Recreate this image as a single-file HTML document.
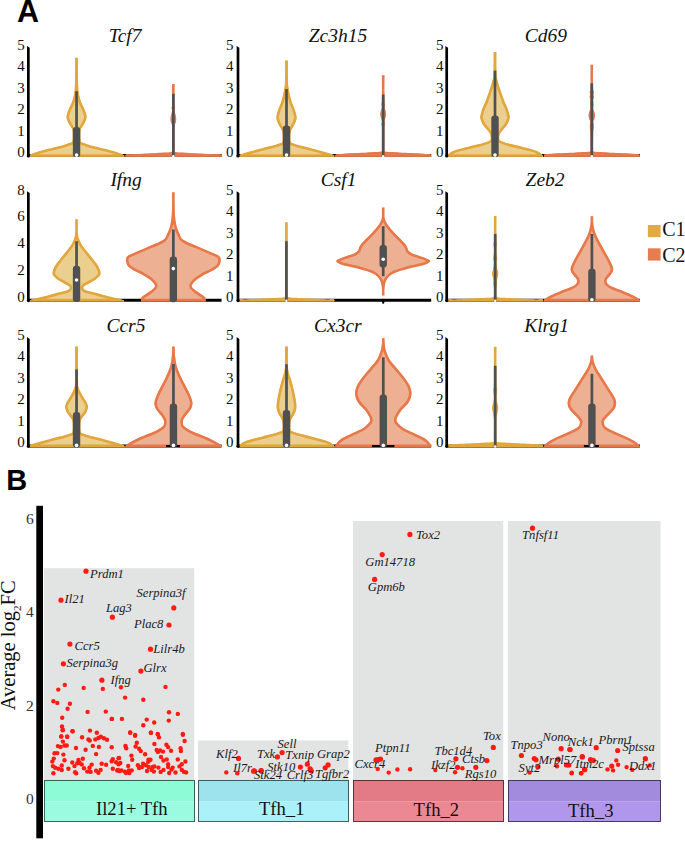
<!DOCTYPE html><html><head><meta charset="utf-8"><style>html,body{margin:0;padding:0;background:#fff;}svg{display:block;}</style></head><body>
<svg width="685" height="841" viewBox="0 0 685 841">
<rect width="685" height="841" fill="#fff"/>
<text x="16.9" y="22.3" font-family='"Liberation Sans", sans-serif' font-weight="bold" font-size="30.5px" fill="#000">A</text>
<text x="24.80" y="157.30" font-family='"Liberation Serif", serif' font-size="15px" fill="#111" text-anchor="end">0</text>
<text x="24.80" y="135.83" font-family='"Liberation Serif", serif' font-size="15px" fill="#111" text-anchor="end">1</text>
<text x="24.80" y="114.36" font-family='"Liberation Serif", serif' font-size="15px" fill="#111" text-anchor="end">2</text>
<text x="24.80" y="92.89" font-family='"Liberation Serif", serif' font-size="15px" fill="#111" text-anchor="end">3</text>
<text x="24.80" y="71.42" font-family='"Liberation Serif", serif' font-size="15px" fill="#111" text-anchor="end">4</text>
<text x="24.80" y="49.95" font-family='"Liberation Serif", serif' font-size="15px" fill="#111" text-anchor="end">5</text>
<text x="125.10" y="41.50" font-family='"Liberation Serif", serif' font-style="italic" font-size="19.5px" fill="#111" text-anchor="middle">Tcf7</text>
<line x1="28.35" y1="155.60" x2="221.55" y2="155.60" stroke="#000" stroke-width="3"/>
<text x="233.60" y="157.30" font-family='"Liberation Serif", serif' font-size="15px" fill="#111" text-anchor="end">0</text>
<text x="233.60" y="135.83" font-family='"Liberation Serif", serif' font-size="15px" fill="#111" text-anchor="end">1</text>
<text x="233.60" y="114.36" font-family='"Liberation Serif", serif' font-size="15px" fill="#111" text-anchor="end">2</text>
<text x="233.60" y="92.89" font-family='"Liberation Serif", serif' font-size="15px" fill="#111" text-anchor="end">3</text>
<text x="233.60" y="71.42" font-family='"Liberation Serif", serif' font-size="15px" fill="#111" text-anchor="end">4</text>
<text x="233.60" y="49.95" font-family='"Liberation Serif", serif' font-size="15px" fill="#111" text-anchor="end">5</text>
<text x="337.95" y="41.50" font-family='"Liberation Serif", serif' font-style="italic" font-size="19.5px" fill="#111" text-anchor="middle">Zc3h15</text>
<line x1="238.00" y1="155.60" x2="431.20" y2="155.60" stroke="#000" stroke-width="3"/>
<text x="443.60" y="157.30" font-family='"Liberation Serif", serif' font-size="15px" fill="#111" text-anchor="end">0</text>
<text x="443.60" y="135.83" font-family='"Liberation Serif", serif' font-size="15px" fill="#111" text-anchor="end">1</text>
<text x="443.60" y="114.36" font-family='"Liberation Serif", serif' font-size="15px" fill="#111" text-anchor="end">2</text>
<text x="443.60" y="92.89" font-family='"Liberation Serif", serif' font-size="15px" fill="#111" text-anchor="end">3</text>
<text x="443.60" y="71.42" font-family='"Liberation Serif", serif' font-size="15px" fill="#111" text-anchor="end">4</text>
<text x="443.60" y="49.95" font-family='"Liberation Serif", serif' font-size="15px" fill="#111" text-anchor="end">5</text>
<text x="545.80" y="41.50" font-family='"Liberation Serif", serif' font-style="italic" font-size="19.5px" fill="#111" text-anchor="middle">Cd69</text>
<line x1="446.70" y1="155.60" x2="639.90" y2="155.60" stroke="#000" stroke-width="3"/>
<text x="24.80" y="302.10" font-family='"Liberation Serif", serif' font-size="15px" fill="#111" text-anchor="end">0</text>
<text x="24.80" y="275.20" font-family='"Liberation Serif", serif' font-size="15px" fill="#111" text-anchor="end">2</text>
<text x="24.80" y="248.30" font-family='"Liberation Serif", serif' font-size="15px" fill="#111" text-anchor="end">4</text>
<text x="24.80" y="221.40" font-family='"Liberation Serif", serif' font-size="15px" fill="#111" text-anchor="end">6</text>
<text x="24.80" y="194.50" font-family='"Liberation Serif", serif' font-size="15px" fill="#111" text-anchor="end">8</text>
<text x="126.10" y="185.60" font-family='"Liberation Serif", serif' font-style="italic" font-size="19.5px" fill="#111" text-anchor="middle">Ifng</text>
<line x1="28.35" y1="300.20" x2="221.55" y2="300.20" stroke="#000" stroke-width="3"/>
<text x="233.60" y="302.10" font-family='"Liberation Serif", serif' font-size="15px" fill="#111" text-anchor="end">0</text>
<text x="233.60" y="280.63" font-family='"Liberation Serif", serif' font-size="15px" fill="#111" text-anchor="end">1</text>
<text x="233.60" y="259.16" font-family='"Liberation Serif", serif' font-size="15px" fill="#111" text-anchor="end">2</text>
<text x="233.60" y="237.69" font-family='"Liberation Serif", serif' font-size="15px" fill="#111" text-anchor="end">3</text>
<text x="233.60" y="216.22" font-family='"Liberation Serif", serif' font-size="15px" fill="#111" text-anchor="end">4</text>
<text x="233.60" y="194.75" font-family='"Liberation Serif", serif' font-size="15px" fill="#111" text-anchor="end">5</text>
<text x="338.65" y="185.60" font-family='"Liberation Serif", serif' font-style="italic" font-size="19.5px" fill="#111" text-anchor="middle">Csf1</text>
<line x1="238.00" y1="300.20" x2="431.20" y2="300.20" stroke="#000" stroke-width="3"/>
<text x="443.60" y="302.10" font-family='"Liberation Serif", serif' font-size="15px" fill="#111" text-anchor="end">0</text>
<text x="443.60" y="280.63" font-family='"Liberation Serif", serif' font-size="15px" fill="#111" text-anchor="end">1</text>
<text x="443.60" y="259.16" font-family='"Liberation Serif", serif' font-size="15px" fill="#111" text-anchor="end">2</text>
<text x="443.60" y="237.69" font-family='"Liberation Serif", serif' font-size="15px" fill="#111" text-anchor="end">3</text>
<text x="443.60" y="216.22" font-family='"Liberation Serif", serif' font-size="15px" fill="#111" text-anchor="end">4</text>
<text x="443.60" y="194.75" font-family='"Liberation Serif", serif' font-size="15px" fill="#111" text-anchor="end">5</text>
<text x="545.05" y="185.60" font-family='"Liberation Serif", serif' font-style="italic" font-size="19.5px" fill="#111" text-anchor="middle">Zeb2</text>
<line x1="446.70" y1="300.20" x2="639.90" y2="300.20" stroke="#000" stroke-width="3"/>
<text x="24.80" y="447.30" font-family='"Liberation Serif", serif' font-size="15px" fill="#111" text-anchor="end">0</text>
<text x="24.80" y="425.83" font-family='"Liberation Serif", serif' font-size="15px" fill="#111" text-anchor="end">1</text>
<text x="24.80" y="404.36" font-family='"Liberation Serif", serif' font-size="15px" fill="#111" text-anchor="end">2</text>
<text x="24.80" y="382.89" font-family='"Liberation Serif", serif' font-size="15px" fill="#111" text-anchor="end">3</text>
<text x="24.80" y="361.42" font-family='"Liberation Serif", serif' font-size="15px" fill="#111" text-anchor="end">4</text>
<text x="24.80" y="339.95" font-family='"Liberation Serif", serif' font-size="15px" fill="#111" text-anchor="end">5</text>
<text x="125.95" y="331.50" font-family='"Liberation Serif", serif' font-style="italic" font-size="19.5px" fill="#111" text-anchor="middle">Ccr5</text>
<line x1="28.35" y1="445.90" x2="221.55" y2="445.90" stroke="#000" stroke-width="3"/>
<text x="233.60" y="447.30" font-family='"Liberation Serif", serif' font-size="15px" fill="#111" text-anchor="end">0</text>
<text x="233.60" y="425.83" font-family='"Liberation Serif", serif' font-size="15px" fill="#111" text-anchor="end">1</text>
<text x="233.60" y="404.36" font-family='"Liberation Serif", serif' font-size="15px" fill="#111" text-anchor="end">2</text>
<text x="233.60" y="382.89" font-family='"Liberation Serif", serif' font-size="15px" fill="#111" text-anchor="end">3</text>
<text x="233.60" y="361.42" font-family='"Liberation Serif", serif' font-size="15px" fill="#111" text-anchor="end">4</text>
<text x="233.60" y="339.95" font-family='"Liberation Serif", serif' font-size="15px" fill="#111" text-anchor="end">5</text>
<text x="337.85" y="331.50" font-family='"Liberation Serif", serif' font-style="italic" font-size="19.5px" fill="#111" text-anchor="middle">Cx3cr</text>
<line x1="238.00" y1="445.90" x2="431.20" y2="445.90" stroke="#000" stroke-width="3"/>
<text x="443.60" y="447.30" font-family='"Liberation Serif", serif' font-size="15px" fill="#111" text-anchor="end">0</text>
<text x="443.60" y="425.83" font-family='"Liberation Serif", serif' font-size="15px" fill="#111" text-anchor="end">1</text>
<text x="443.60" y="404.36" font-family='"Liberation Serif", serif' font-size="15px" fill="#111" text-anchor="end">2</text>
<text x="443.60" y="382.89" font-family='"Liberation Serif", serif' font-size="15px" fill="#111" text-anchor="end">3</text>
<text x="443.60" y="361.42" font-family='"Liberation Serif", serif' font-size="15px" fill="#111" text-anchor="end">4</text>
<text x="443.60" y="339.95" font-family='"Liberation Serif", serif' font-size="15px" fill="#111" text-anchor="end">5</text>
<text x="546.60" y="331.50" font-family='"Liberation Serif", serif' font-style="italic" font-size="19.5px" fill="#111" text-anchor="middle">Klrg1</text>
<line x1="446.70" y1="445.90" x2="639.90" y2="445.90" stroke="#000" stroke-width="3"/>
<clipPath id="vc1"><path d="M77.95,57.80 C77.97,61.50 77.97,74.77 78.05,80.00 C78.13,85.23 78.22,86.53 78.45,89.20 C78.68,91.87 78.98,93.82 79.45,96.00 C79.92,98.18 80.58,100.47 81.25,102.30 C81.92,104.13 82.77,105.47 83.45,107.00 C84.13,108.53 84.82,109.77 85.35,111.50 C85.88,113.23 86.78,115.45 86.65,117.40 C86.52,119.35 85.23,121.68 84.55,123.20 C83.87,124.72 83.18,125.40 82.55,126.50 C81.92,127.60 81.10,128.38 80.75,129.80 C80.40,131.22 80.43,133.03 80.45,135.00 C80.47,136.97 80.25,140.25 80.85,141.60 C81.45,142.95 82.63,142.55 84.05,143.10 C85.47,143.65 85.88,143.95 89.35,144.90 C92.82,145.85 99.98,147.50 104.85,148.80 C109.72,150.10 115.33,151.62 118.55,152.70 C121.77,153.78 123.15,154.62 124.15,155.30 C125.15,155.98 124.48,156.55 124.55,156.80 L28.55,156.80 C28.62,156.55 27.95,155.98 28.95,155.30 C29.95,154.62 31.33,153.78 34.55,152.70 C37.77,151.62 43.38,150.10 48.25,148.80 C53.12,147.50 60.28,145.85 63.75,144.90 C67.22,143.95 67.63,143.65 69.05,143.10 C70.47,142.55 71.65,142.95 72.25,141.60 C72.85,140.25 72.63,136.97 72.65,135.00 C72.67,133.03 72.70,131.22 72.35,129.80 C72.00,128.38 71.18,127.60 70.55,126.50 C69.92,125.40 69.23,124.72 68.55,123.20 C67.87,121.68 66.58,119.35 66.45,117.40 C66.32,115.45 67.22,113.23 67.75,111.50 C68.28,109.77 68.97,108.53 69.65,107.00 C70.33,105.47 71.18,104.13 71.85,102.30 C72.52,100.47 73.18,98.18 73.65,96.00 C74.12,93.82 74.42,91.87 74.65,89.20 C74.88,86.53 74.97,85.23 75.05,80.00 C75.13,74.77 75.13,61.50 75.15,57.80 Z"/></clipPath>
<path d="M77.95,57.80 C77.97,61.50 77.97,74.77 78.05,80.00 C78.13,85.23 78.22,86.53 78.45,89.20 C78.68,91.87 78.98,93.82 79.45,96.00 C79.92,98.18 80.58,100.47 81.25,102.30 C81.92,104.13 82.77,105.47 83.45,107.00 C84.13,108.53 84.82,109.77 85.35,111.50 C85.88,113.23 86.78,115.45 86.65,117.40 C86.52,119.35 85.23,121.68 84.55,123.20 C83.87,124.72 83.18,125.40 82.55,126.50 C81.92,127.60 81.10,128.38 80.75,129.80 C80.40,131.22 80.43,133.03 80.45,135.00 C80.47,136.97 80.25,140.25 80.85,141.60 C81.45,142.95 82.63,142.55 84.05,143.10 C85.47,143.65 85.88,143.95 89.35,144.90 C92.82,145.85 99.98,147.50 104.85,148.80 C109.72,150.10 115.33,151.62 118.55,152.70 C121.77,153.78 123.15,154.62 124.15,155.30 C125.15,155.98 124.48,156.55 124.55,156.80 L28.55,156.80 C28.62,156.55 27.95,155.98 28.95,155.30 C29.95,154.62 31.33,153.78 34.55,152.70 C37.77,151.62 43.38,150.10 48.25,148.80 C53.12,147.50 60.28,145.85 63.75,144.90 C67.22,143.95 67.63,143.65 69.05,143.10 C70.47,142.55 71.65,142.95 72.25,141.60 C72.85,140.25 72.63,136.97 72.65,135.00 C72.67,133.03 72.70,131.22 72.35,129.80 C72.00,128.38 71.18,127.60 70.55,126.50 C69.92,125.40 69.23,124.72 68.55,123.20 C67.87,121.68 66.58,119.35 66.45,117.40 C66.32,115.45 67.22,113.23 67.75,111.50 C68.28,109.77 68.97,108.53 69.65,107.00 C70.33,105.47 71.18,104.13 71.85,102.30 C72.52,100.47 73.18,98.18 73.65,96.00 C74.12,93.82 74.42,91.87 74.65,89.20 C74.88,86.53 74.97,85.23 75.05,80.00 C75.13,74.77 75.13,61.50 75.15,57.80 Z" fill="#EBCF8E" stroke="#E2A73C" stroke-width="5.20" clip-path="url(#vc1)"/>
<line x1="76.55" y1="91.20" x2="76.55" y2="156.80" stroke="#4F5052" stroke-width="2.7"/>
<rect x="72.85" y="126.90" width="7.4" height="30.20" rx="3.2" fill="#4F5052"/>
<circle cx="76.55" cy="155.10" r="1.8" fill="#fff"/>
<clipPath id="vc2"><path d="M174.65,84.10 C174.65,87.42 174.57,100.05 174.65,104.00 C174.73,107.95 175.15,106.63 175.15,107.80 C175.15,108.97 174.55,109.72 174.65,111.00 C174.75,112.28 175.48,114.10 175.75,115.50 C176.02,116.90 176.27,118.15 176.25,119.40 C176.23,120.65 175.92,121.82 175.65,123.00 C175.38,124.18 174.82,122.33 174.65,126.50 C174.48,130.67 174.65,143.83 174.65,148.00 C174.65,152.17 174.37,150.78 174.65,151.50 C174.93,152.22 175.23,152.12 176.35,152.30 C177.47,152.48 179.18,152.48 181.35,152.60 C183.52,152.72 186.02,152.83 189.35,153.00 C192.68,153.17 197.35,153.38 201.35,153.60 C205.35,153.82 210.25,154.18 213.35,154.30 C216.45,154.42 218.62,154.10 219.95,154.30 C221.28,154.50 221.12,155.08 221.35,155.50 C221.58,155.92 221.35,156.58 221.35,156.80 L125.35,156.80 C125.35,156.58 125.12,155.92 125.35,155.50 C125.58,155.08 125.42,154.50 126.75,154.30 C128.08,154.10 130.25,154.42 133.35,154.30 C136.45,154.18 141.35,153.82 145.35,153.60 C149.35,153.38 154.02,153.17 157.35,153.00 C160.68,152.83 163.18,152.72 165.35,152.60 C167.52,152.48 169.23,152.48 170.35,152.30 C171.47,152.12 171.77,152.22 172.05,151.50 C172.33,150.78 172.05,152.17 172.05,148.00 C172.05,143.83 172.22,130.67 172.05,126.50 C171.88,122.33 171.32,124.18 171.05,123.00 C170.78,121.82 170.47,120.65 170.45,119.40 C170.43,118.15 170.68,116.90 170.95,115.50 C171.22,114.10 171.95,112.28 172.05,111.00 C172.15,109.72 171.55,108.97 171.55,107.80 C171.55,106.63 171.97,107.95 172.05,104.00 C172.13,100.05 172.05,87.42 172.05,84.10 Z"/></clipPath>
<path d="M174.65,84.10 C174.65,87.42 174.57,100.05 174.65,104.00 C174.73,107.95 175.15,106.63 175.15,107.80 C175.15,108.97 174.55,109.72 174.65,111.00 C174.75,112.28 175.48,114.10 175.75,115.50 C176.02,116.90 176.27,118.15 176.25,119.40 C176.23,120.65 175.92,121.82 175.65,123.00 C175.38,124.18 174.82,122.33 174.65,126.50 C174.48,130.67 174.65,143.83 174.65,148.00 C174.65,152.17 174.37,150.78 174.65,151.50 C174.93,152.22 175.23,152.12 176.35,152.30 C177.47,152.48 179.18,152.48 181.35,152.60 C183.52,152.72 186.02,152.83 189.35,153.00 C192.68,153.17 197.35,153.38 201.35,153.60 C205.35,153.82 210.25,154.18 213.35,154.30 C216.45,154.42 218.62,154.10 219.95,154.30 C221.28,154.50 221.12,155.08 221.35,155.50 C221.58,155.92 221.35,156.58 221.35,156.80 L125.35,156.80 C125.35,156.58 125.12,155.92 125.35,155.50 C125.58,155.08 125.42,154.50 126.75,154.30 C128.08,154.10 130.25,154.42 133.35,154.30 C136.45,154.18 141.35,153.82 145.35,153.60 C149.35,153.38 154.02,153.17 157.35,153.00 C160.68,152.83 163.18,152.72 165.35,152.60 C167.52,152.48 169.23,152.48 170.35,152.30 C171.47,152.12 171.77,152.22 172.05,151.50 C172.33,150.78 172.05,152.17 172.05,148.00 C172.05,143.83 172.22,130.67 172.05,126.50 C171.88,122.33 171.32,124.18 171.05,123.00 C170.78,121.82 170.47,120.65 170.45,119.40 C170.43,118.15 170.68,116.90 170.95,115.50 C171.22,114.10 171.95,112.28 172.05,111.00 C172.15,109.72 171.55,108.97 171.55,107.80 C171.55,106.63 171.97,107.95 172.05,104.00 C172.13,100.05 172.05,87.42 172.05,84.10 Z" fill="#EDB093" stroke="#E8784A" stroke-width="5.20" clip-path="url(#vc2)"/>
<line x1="173.35" y1="93.70" x2="173.35" y2="156.80" stroke="#4F5052" stroke-width="2.7"/>
<circle cx="173.35" cy="156.20" r="1.2" fill="#fff"/>
<clipPath id="vc3"><path d="M287.90,60.50 C287.92,63.98 287.83,76.62 288.00,81.40 C288.17,86.18 288.53,86.77 288.90,89.20 C289.27,91.63 289.70,93.82 290.20,96.00 C290.70,98.18 291.30,100.47 291.90,102.30 C292.50,104.13 293.22,105.47 293.80,107.00 C294.38,108.53 294.92,109.67 295.40,111.50 C295.88,113.33 296.85,115.82 296.70,118.00 C296.55,120.18 295.20,122.93 294.50,124.60 C293.80,126.27 293.08,126.92 292.50,128.00 C291.92,129.08 291.35,129.77 291.00,131.10 C290.65,132.43 290.43,134.18 290.40,136.00 C290.37,137.82 290.20,140.75 290.80,142.00 C291.40,143.25 292.58,142.95 294.00,143.50 C295.42,144.05 295.83,144.35 299.30,145.30 C302.77,146.25 309.93,147.90 314.80,149.20 C319.67,150.50 325.28,152.08 328.50,153.10 C331.72,154.12 333.10,154.68 334.10,155.30 C335.10,155.92 334.43,156.55 334.50,156.80 L238.50,156.80 C238.57,156.55 237.90,155.92 238.90,155.30 C239.90,154.68 241.28,154.12 244.50,153.10 C247.72,152.08 253.33,150.50 258.20,149.20 C263.07,147.90 270.23,146.25 273.70,145.30 C277.17,144.35 277.58,144.05 279.00,143.50 C280.42,142.95 281.60,143.25 282.20,142.00 C282.80,140.75 282.63,137.82 282.60,136.00 C282.57,134.18 282.35,132.43 282.00,131.10 C281.65,129.77 281.08,129.08 280.50,128.00 C279.92,126.92 279.20,126.27 278.50,124.60 C277.80,122.93 276.45,120.18 276.30,118.00 C276.15,115.82 277.12,113.33 277.60,111.50 C278.08,109.67 278.62,108.53 279.20,107.00 C279.78,105.47 280.50,104.13 281.10,102.30 C281.70,100.47 282.30,98.18 282.80,96.00 C283.30,93.82 283.73,91.63 284.10,89.20 C284.47,86.77 284.83,86.18 285.00,81.40 C285.17,76.62 285.08,63.98 285.10,60.50 Z"/></clipPath>
<path d="M287.90,60.50 C287.92,63.98 287.83,76.62 288.00,81.40 C288.17,86.18 288.53,86.77 288.90,89.20 C289.27,91.63 289.70,93.82 290.20,96.00 C290.70,98.18 291.30,100.47 291.90,102.30 C292.50,104.13 293.22,105.47 293.80,107.00 C294.38,108.53 294.92,109.67 295.40,111.50 C295.88,113.33 296.85,115.82 296.70,118.00 C296.55,120.18 295.20,122.93 294.50,124.60 C293.80,126.27 293.08,126.92 292.50,128.00 C291.92,129.08 291.35,129.77 291.00,131.10 C290.65,132.43 290.43,134.18 290.40,136.00 C290.37,137.82 290.20,140.75 290.80,142.00 C291.40,143.25 292.58,142.95 294.00,143.50 C295.42,144.05 295.83,144.35 299.30,145.30 C302.77,146.25 309.93,147.90 314.80,149.20 C319.67,150.50 325.28,152.08 328.50,153.10 C331.72,154.12 333.10,154.68 334.10,155.30 C335.10,155.92 334.43,156.55 334.50,156.80 L238.50,156.80 C238.57,156.55 237.90,155.92 238.90,155.30 C239.90,154.68 241.28,154.12 244.50,153.10 C247.72,152.08 253.33,150.50 258.20,149.20 C263.07,147.90 270.23,146.25 273.70,145.30 C277.17,144.35 277.58,144.05 279.00,143.50 C280.42,142.95 281.60,143.25 282.20,142.00 C282.80,140.75 282.63,137.82 282.60,136.00 C282.57,134.18 282.35,132.43 282.00,131.10 C281.65,129.77 281.08,129.08 280.50,128.00 C279.92,126.92 279.20,126.27 278.50,124.60 C277.80,122.93 276.45,120.18 276.30,118.00 C276.15,115.82 277.12,113.33 277.60,111.50 C278.08,109.67 278.62,108.53 279.20,107.00 C279.78,105.47 280.50,104.13 281.10,102.30 C281.70,100.47 282.30,98.18 282.80,96.00 C283.30,93.82 283.73,91.63 284.10,89.20 C284.47,86.77 284.83,86.18 285.00,81.40 C285.17,76.62 285.08,63.98 285.10,60.50 Z" fill="#EBCF8E" stroke="#E2A73C" stroke-width="5.20" clip-path="url(#vc3)"/>
<line x1="286.50" y1="89.10" x2="286.50" y2="156.80" stroke="#4F5052" stroke-width="2.7"/>
<rect x="282.80" y="125.40" width="7.4" height="31.70" rx="3.2" fill="#4F5052"/>
<circle cx="286.50" cy="155.10" r="1.8" fill="#fff"/>
<clipPath id="vc4"><path d="M384.50,75.30 C384.50,79.42 384.42,95.13 384.50,100.00 C384.58,104.87 384.98,103.25 385.00,104.50 C385.02,105.75 384.50,106.42 384.60,107.50 C384.70,108.58 385.33,109.85 385.60,111.00 C385.87,112.15 386.23,113.23 386.20,114.40 C386.17,115.57 385.68,116.82 385.40,118.00 C385.12,119.18 384.57,120.42 384.50,121.50 C384.43,122.58 385.00,123.50 385.00,124.50 C385.00,125.50 384.58,123.58 384.50,127.50 C384.42,131.42 384.50,144.10 384.50,148.00 C384.50,151.90 384.22,150.28 384.50,150.90 C384.78,151.52 385.08,151.52 386.20,151.70 C387.32,151.88 389.03,151.88 391.20,152.00 C393.37,152.12 395.87,152.23 399.20,152.40 C402.53,152.57 407.20,152.78 411.20,153.00 C415.20,153.22 420.10,153.48 423.20,153.70 C426.30,153.92 428.47,154.00 429.80,154.30 C431.13,154.60 430.97,155.08 431.20,155.50 C431.43,155.92 431.20,156.58 431.20,156.80 L335.20,156.80 C335.20,156.58 334.97,155.92 335.20,155.50 C335.43,155.08 335.27,154.60 336.60,154.30 C337.93,154.00 340.10,153.92 343.20,153.70 C346.30,153.48 351.20,153.22 355.20,153.00 C359.20,152.78 363.87,152.57 367.20,152.40 C370.53,152.23 373.03,152.12 375.20,152.00 C377.37,151.88 379.08,151.88 380.20,151.70 C381.32,151.52 381.62,151.52 381.90,150.90 C382.18,150.28 381.90,151.90 381.90,148.00 C381.90,144.10 381.98,131.42 381.90,127.50 C381.82,123.58 381.40,125.50 381.40,124.50 C381.40,123.50 381.97,122.58 381.90,121.50 C381.83,120.42 381.28,119.18 381.00,118.00 C380.72,116.82 380.23,115.57 380.20,114.40 C380.17,113.23 380.53,112.15 380.80,111.00 C381.07,109.85 381.70,108.58 381.80,107.50 C381.90,106.42 381.38,105.75 381.40,104.50 C381.42,103.25 381.82,104.87 381.90,100.00 C381.98,95.13 381.90,79.42 381.90,75.30 Z"/></clipPath>
<path d="M384.50,75.30 C384.50,79.42 384.42,95.13 384.50,100.00 C384.58,104.87 384.98,103.25 385.00,104.50 C385.02,105.75 384.50,106.42 384.60,107.50 C384.70,108.58 385.33,109.85 385.60,111.00 C385.87,112.15 386.23,113.23 386.20,114.40 C386.17,115.57 385.68,116.82 385.40,118.00 C385.12,119.18 384.57,120.42 384.50,121.50 C384.43,122.58 385.00,123.50 385.00,124.50 C385.00,125.50 384.58,123.58 384.50,127.50 C384.42,131.42 384.50,144.10 384.50,148.00 C384.50,151.90 384.22,150.28 384.50,150.90 C384.78,151.52 385.08,151.52 386.20,151.70 C387.32,151.88 389.03,151.88 391.20,152.00 C393.37,152.12 395.87,152.23 399.20,152.40 C402.53,152.57 407.20,152.78 411.20,153.00 C415.20,153.22 420.10,153.48 423.20,153.70 C426.30,153.92 428.47,154.00 429.80,154.30 C431.13,154.60 430.97,155.08 431.20,155.50 C431.43,155.92 431.20,156.58 431.20,156.80 L335.20,156.80 C335.20,156.58 334.97,155.92 335.20,155.50 C335.43,155.08 335.27,154.60 336.60,154.30 C337.93,154.00 340.10,153.92 343.20,153.70 C346.30,153.48 351.20,153.22 355.20,153.00 C359.20,152.78 363.87,152.57 367.20,152.40 C370.53,152.23 373.03,152.12 375.20,152.00 C377.37,151.88 379.08,151.88 380.20,151.70 C381.32,151.52 381.62,151.52 381.90,150.90 C382.18,150.28 381.90,151.90 381.90,148.00 C381.90,144.10 381.98,131.42 381.90,127.50 C381.82,123.58 381.40,125.50 381.40,124.50 C381.40,123.50 381.97,122.58 381.90,121.50 C381.83,120.42 381.28,119.18 381.00,118.00 C380.72,116.82 380.23,115.57 380.20,114.40 C380.17,113.23 380.53,112.15 380.80,111.00 C381.07,109.85 381.70,108.58 381.80,107.50 C381.90,106.42 381.38,105.75 381.40,104.50 C381.42,103.25 381.82,104.87 381.90,100.00 C381.98,95.13 381.90,79.42 381.90,75.30 Z" fill="#EDB093" stroke="#E8784A" stroke-width="5.20" clip-path="url(#vc4)"/>
<line x1="383.20" y1="94.50" x2="383.20" y2="156.80" stroke="#4F5052" stroke-width="2.7"/>
<circle cx="383.20" cy="156.20" r="1.2" fill="#fff"/>
<clipPath id="vc5"><path d="M496.40,52.00 C496.42,55.00 496.42,65.78 496.50,70.00 C496.58,74.22 496.65,75.30 496.90,77.30 C497.15,79.30 497.52,80.22 498.00,82.00 C498.48,83.78 499.10,85.83 499.80,88.00 C500.50,90.17 501.42,92.78 502.20,95.00 C502.98,97.22 503.82,99.55 504.50,101.30 C505.18,103.05 505.73,104.17 506.30,105.50 C506.87,106.83 507.32,107.45 507.90,109.30 C508.48,111.15 509.62,114.73 509.80,116.60 C509.98,118.47 509.37,119.28 509.00,120.50 C508.63,121.72 508.27,122.73 507.60,123.90 C506.93,125.07 505.87,126.38 505.00,127.50 C504.13,128.62 503.23,129.52 502.40,130.60 C501.57,131.68 500.50,133.02 500.00,134.00 C499.50,134.98 499.47,135.52 499.40,136.50 C499.33,137.48 499.08,139.08 499.60,139.90 C500.12,140.72 501.13,140.85 502.50,141.40 C503.87,141.95 504.33,142.25 507.80,143.20 C511.27,144.15 518.43,145.80 523.30,147.10 C528.17,148.40 533.78,149.63 537.00,151.00 C540.22,152.37 541.60,154.33 542.60,155.30 C543.60,156.27 542.93,156.55 543.00,156.80 L447.00,156.80 C447.07,156.55 446.40,156.27 447.40,155.30 C448.40,154.33 449.78,152.37 453.00,151.00 C456.22,149.63 461.83,148.40 466.70,147.10 C471.57,145.80 478.73,144.15 482.20,143.20 C485.67,142.25 486.13,141.95 487.50,141.40 C488.87,140.85 489.88,140.72 490.40,139.90 C490.92,139.08 490.67,137.48 490.60,136.50 C490.53,135.52 490.50,134.98 490.00,134.00 C489.50,133.02 488.43,131.68 487.60,130.60 C486.77,129.52 485.87,128.62 485.00,127.50 C484.13,126.38 483.07,125.07 482.40,123.90 C481.73,122.73 481.37,121.72 481.00,120.50 C480.63,119.28 480.02,118.47 480.20,116.60 C480.38,114.73 481.52,111.15 482.10,109.30 C482.68,107.45 483.13,106.83 483.70,105.50 C484.27,104.17 484.82,103.05 485.50,101.30 C486.18,99.55 487.02,97.22 487.80,95.00 C488.58,92.78 489.50,90.17 490.20,88.00 C490.90,85.83 491.52,83.78 492.00,82.00 C492.48,80.22 492.85,79.30 493.10,77.30 C493.35,75.30 493.42,74.22 493.50,70.00 C493.58,65.78 493.58,55.00 493.60,52.00 Z"/></clipPath>
<path d="M496.40,52.00 C496.42,55.00 496.42,65.78 496.50,70.00 C496.58,74.22 496.65,75.30 496.90,77.30 C497.15,79.30 497.52,80.22 498.00,82.00 C498.48,83.78 499.10,85.83 499.80,88.00 C500.50,90.17 501.42,92.78 502.20,95.00 C502.98,97.22 503.82,99.55 504.50,101.30 C505.18,103.05 505.73,104.17 506.30,105.50 C506.87,106.83 507.32,107.45 507.90,109.30 C508.48,111.15 509.62,114.73 509.80,116.60 C509.98,118.47 509.37,119.28 509.00,120.50 C508.63,121.72 508.27,122.73 507.60,123.90 C506.93,125.07 505.87,126.38 505.00,127.50 C504.13,128.62 503.23,129.52 502.40,130.60 C501.57,131.68 500.50,133.02 500.00,134.00 C499.50,134.98 499.47,135.52 499.40,136.50 C499.33,137.48 499.08,139.08 499.60,139.90 C500.12,140.72 501.13,140.85 502.50,141.40 C503.87,141.95 504.33,142.25 507.80,143.20 C511.27,144.15 518.43,145.80 523.30,147.10 C528.17,148.40 533.78,149.63 537.00,151.00 C540.22,152.37 541.60,154.33 542.60,155.30 C543.60,156.27 542.93,156.55 543.00,156.80 L447.00,156.80 C447.07,156.55 446.40,156.27 447.40,155.30 C448.40,154.33 449.78,152.37 453.00,151.00 C456.22,149.63 461.83,148.40 466.70,147.10 C471.57,145.80 478.73,144.15 482.20,143.20 C485.67,142.25 486.13,141.95 487.50,141.40 C488.87,140.85 489.88,140.72 490.40,139.90 C490.92,139.08 490.67,137.48 490.60,136.50 C490.53,135.52 490.50,134.98 490.00,134.00 C489.50,133.02 488.43,131.68 487.60,130.60 C486.77,129.52 485.87,128.62 485.00,127.50 C484.13,126.38 483.07,125.07 482.40,123.90 C481.73,122.73 481.37,121.72 481.00,120.50 C480.63,119.28 480.02,118.47 480.20,116.60 C480.38,114.73 481.52,111.15 482.10,109.30 C482.68,107.45 483.13,106.83 483.70,105.50 C484.27,104.17 484.82,103.05 485.50,101.30 C486.18,99.55 487.02,97.22 487.80,95.00 C488.58,92.78 489.50,90.17 490.20,88.00 C490.90,85.83 491.52,83.78 492.00,82.00 C492.48,80.22 492.85,79.30 493.10,77.30 C493.35,75.30 493.42,74.22 493.50,70.00 C493.58,65.78 493.58,55.00 493.60,52.00 Z" fill="#EBCF8E" stroke="#E2A73C" stroke-width="5.20" clip-path="url(#vc5)"/>
<line x1="495.00" y1="70.60" x2="495.00" y2="156.80" stroke="#4F5052" stroke-width="2.7"/>
<rect x="491.30" y="115.40" width="7.4" height="41.70" rx="3.2" fill="#4F5052"/>
<circle cx="495.00" cy="155.10" r="1.8" fill="#fff"/>
<clipPath id="vc6"><path d="M593.10,64.80 C593.10,68.67 592.95,83.47 593.10,88.00 C593.25,92.53 593.95,90.92 594.00,92.00 C594.05,93.08 593.38,93.67 593.40,94.50 C593.42,95.33 594.13,96.17 594.10,97.00 C594.07,97.83 593.32,98.50 593.20,99.50 C593.08,100.50 593.33,102.00 593.40,103.00 C593.47,104.00 593.65,104.58 593.60,105.50 C593.55,106.42 592.97,107.42 593.10,108.50 C593.23,109.58 594.07,110.83 594.40,112.00 C594.73,113.17 595.10,114.33 595.10,115.50 C595.10,116.67 594.72,118.00 594.40,119.00 C594.08,120.00 593.32,120.67 593.20,121.50 C593.08,122.33 593.60,122.92 593.70,124.00 C593.80,125.08 593.88,126.58 593.80,128.00 C593.72,129.42 593.32,129.17 593.20,132.50 C593.08,135.83 593.12,144.92 593.10,148.00 C593.08,151.08 592.82,150.37 593.10,151.00 C593.38,151.63 593.68,151.62 594.80,151.80 C595.92,151.98 597.63,151.98 599.80,152.10 C601.97,152.22 604.47,152.33 607.80,152.50 C611.13,152.67 615.80,152.88 619.80,153.10 C623.80,153.32 628.70,153.60 631.80,153.80 C634.90,154.00 637.07,154.02 638.40,154.30 C639.73,154.58 639.57,155.08 639.80,155.50 C640.03,155.92 639.80,156.58 639.80,156.80 L543.80,156.80 C543.80,156.58 543.57,155.92 543.80,155.50 C544.03,155.08 543.87,154.58 545.20,154.30 C546.53,154.02 548.70,154.00 551.80,153.80 C554.90,153.60 559.80,153.32 563.80,153.10 C567.80,152.88 572.47,152.67 575.80,152.50 C579.13,152.33 581.63,152.22 583.80,152.10 C585.97,151.98 587.68,151.98 588.80,151.80 C589.92,151.62 590.22,151.63 590.50,151.00 C590.78,150.37 590.52,151.08 590.50,148.00 C590.48,144.92 590.52,135.83 590.40,132.50 C590.28,129.17 589.88,129.42 589.80,128.00 C589.72,126.58 589.80,125.08 589.90,124.00 C590.00,122.92 590.52,122.33 590.40,121.50 C590.28,120.67 589.52,120.00 589.20,119.00 C588.88,118.00 588.50,116.67 588.50,115.50 C588.50,114.33 588.87,113.17 589.20,112.00 C589.53,110.83 590.37,109.58 590.50,108.50 C590.63,107.42 590.05,106.42 590.00,105.50 C589.95,104.58 590.13,104.00 590.20,103.00 C590.27,102.00 590.52,100.50 590.40,99.50 C590.28,98.50 589.53,97.83 589.50,97.00 C589.47,96.17 590.18,95.33 590.20,94.50 C590.22,93.67 589.55,93.08 589.60,92.00 C589.65,90.92 590.35,92.53 590.50,88.00 C590.65,83.47 590.50,68.67 590.50,64.80 Z"/></clipPath>
<path d="M593.10,64.80 C593.10,68.67 592.95,83.47 593.10,88.00 C593.25,92.53 593.95,90.92 594.00,92.00 C594.05,93.08 593.38,93.67 593.40,94.50 C593.42,95.33 594.13,96.17 594.10,97.00 C594.07,97.83 593.32,98.50 593.20,99.50 C593.08,100.50 593.33,102.00 593.40,103.00 C593.47,104.00 593.65,104.58 593.60,105.50 C593.55,106.42 592.97,107.42 593.10,108.50 C593.23,109.58 594.07,110.83 594.40,112.00 C594.73,113.17 595.10,114.33 595.10,115.50 C595.10,116.67 594.72,118.00 594.40,119.00 C594.08,120.00 593.32,120.67 593.20,121.50 C593.08,122.33 593.60,122.92 593.70,124.00 C593.80,125.08 593.88,126.58 593.80,128.00 C593.72,129.42 593.32,129.17 593.20,132.50 C593.08,135.83 593.12,144.92 593.10,148.00 C593.08,151.08 592.82,150.37 593.10,151.00 C593.38,151.63 593.68,151.62 594.80,151.80 C595.92,151.98 597.63,151.98 599.80,152.10 C601.97,152.22 604.47,152.33 607.80,152.50 C611.13,152.67 615.80,152.88 619.80,153.10 C623.80,153.32 628.70,153.60 631.80,153.80 C634.90,154.00 637.07,154.02 638.40,154.30 C639.73,154.58 639.57,155.08 639.80,155.50 C640.03,155.92 639.80,156.58 639.80,156.80 L543.80,156.80 C543.80,156.58 543.57,155.92 543.80,155.50 C544.03,155.08 543.87,154.58 545.20,154.30 C546.53,154.02 548.70,154.00 551.80,153.80 C554.90,153.60 559.80,153.32 563.80,153.10 C567.80,152.88 572.47,152.67 575.80,152.50 C579.13,152.33 581.63,152.22 583.80,152.10 C585.97,151.98 587.68,151.98 588.80,151.80 C589.92,151.62 590.22,151.63 590.50,151.00 C590.78,150.37 590.52,151.08 590.50,148.00 C590.48,144.92 590.52,135.83 590.40,132.50 C590.28,129.17 589.88,129.42 589.80,128.00 C589.72,126.58 589.80,125.08 589.90,124.00 C590.00,122.92 590.52,122.33 590.40,121.50 C590.28,120.67 589.52,120.00 589.20,119.00 C588.88,118.00 588.50,116.67 588.50,115.50 C588.50,114.33 588.87,113.17 589.20,112.00 C589.53,110.83 590.37,109.58 590.50,108.50 C590.63,107.42 590.05,106.42 590.00,105.50 C589.95,104.58 590.13,104.00 590.20,103.00 C590.27,102.00 590.52,100.50 590.40,99.50 C590.28,98.50 589.53,97.83 589.50,97.00 C589.47,96.17 590.18,95.33 590.20,94.50 C590.22,93.67 589.55,93.08 589.60,92.00 C589.65,90.92 590.35,92.53 590.50,88.00 C590.65,83.47 590.50,68.67 590.50,64.80 Z" fill="#EDB093" stroke="#E8784A" stroke-width="5.20" clip-path="url(#vc6)"/>
<line x1="591.80" y1="83.20" x2="591.80" y2="156.80" stroke="#4F5052" stroke-width="2.7"/>
<circle cx="591.80" cy="156.20" r="1.2" fill="#fff"/>
<clipPath id="vc7"><path d="M77.85,219.20 C77.85,221.00 77.82,227.52 77.85,230.00 C77.88,232.48 77.87,232.68 78.05,234.10 C78.23,235.52 78.27,236.65 78.95,238.50 C79.63,240.35 80.78,242.98 82.15,245.20 C83.52,247.42 85.40,249.60 87.15,251.80 C88.90,254.00 90.90,256.18 92.65,258.40 C94.40,260.62 96.40,263.07 97.65,265.10 C98.90,267.13 99.67,269.23 100.15,270.60 C100.63,271.97 100.58,272.47 100.55,273.30 C100.52,274.13 100.72,274.57 99.95,275.60 C99.18,276.63 97.90,278.12 95.95,279.50 C94.00,280.88 90.22,282.77 88.25,283.90 C86.28,285.03 84.95,285.62 84.15,286.30 C83.35,286.98 83.40,287.45 83.45,288.00 C83.50,288.55 83.28,289.00 84.45,289.60 C85.62,290.20 87.23,290.72 90.45,291.60 C93.67,292.48 99.70,293.88 103.75,294.90 C107.80,295.92 111.53,296.87 114.75,297.70 C117.97,298.53 121.42,299.28 123.05,299.90 C124.68,300.52 124.30,301.15 124.55,301.40 L28.55,301.40 C28.80,301.15 28.42,300.52 30.05,299.90 C31.68,299.28 35.13,298.53 38.35,297.70 C41.57,296.87 45.30,295.92 49.35,294.90 C53.40,293.88 59.43,292.48 62.65,291.60 C65.87,290.72 67.48,290.20 68.65,289.60 C69.82,289.00 69.60,288.55 69.65,288.00 C69.70,287.45 69.75,286.98 68.95,286.30 C68.15,285.62 66.82,285.03 64.85,283.90 C62.88,282.77 59.10,280.88 57.15,279.50 C55.20,278.12 53.92,276.63 53.15,275.60 C52.38,274.57 52.58,274.13 52.55,273.30 C52.52,272.47 52.47,271.97 52.95,270.60 C53.43,269.23 54.20,267.13 55.45,265.10 C56.70,263.07 58.70,260.62 60.45,258.40 C62.20,256.18 64.20,254.00 65.95,251.80 C67.70,249.60 69.58,247.42 70.95,245.20 C72.32,242.98 73.47,240.35 74.15,238.50 C74.83,236.65 74.87,235.52 75.05,234.10 C75.23,232.68 75.22,232.48 75.25,230.00 C75.28,227.52 75.25,221.00 75.25,219.20 Z"/></clipPath>
<path d="M77.85,219.20 C77.85,221.00 77.82,227.52 77.85,230.00 C77.88,232.48 77.87,232.68 78.05,234.10 C78.23,235.52 78.27,236.65 78.95,238.50 C79.63,240.35 80.78,242.98 82.15,245.20 C83.52,247.42 85.40,249.60 87.15,251.80 C88.90,254.00 90.90,256.18 92.65,258.40 C94.40,260.62 96.40,263.07 97.65,265.10 C98.90,267.13 99.67,269.23 100.15,270.60 C100.63,271.97 100.58,272.47 100.55,273.30 C100.52,274.13 100.72,274.57 99.95,275.60 C99.18,276.63 97.90,278.12 95.95,279.50 C94.00,280.88 90.22,282.77 88.25,283.90 C86.28,285.03 84.95,285.62 84.15,286.30 C83.35,286.98 83.40,287.45 83.45,288.00 C83.50,288.55 83.28,289.00 84.45,289.60 C85.62,290.20 87.23,290.72 90.45,291.60 C93.67,292.48 99.70,293.88 103.75,294.90 C107.80,295.92 111.53,296.87 114.75,297.70 C117.97,298.53 121.42,299.28 123.05,299.90 C124.68,300.52 124.30,301.15 124.55,301.40 L28.55,301.40 C28.80,301.15 28.42,300.52 30.05,299.90 C31.68,299.28 35.13,298.53 38.35,297.70 C41.57,296.87 45.30,295.92 49.35,294.90 C53.40,293.88 59.43,292.48 62.65,291.60 C65.87,290.72 67.48,290.20 68.65,289.60 C69.82,289.00 69.60,288.55 69.65,288.00 C69.70,287.45 69.75,286.98 68.95,286.30 C68.15,285.62 66.82,285.03 64.85,283.90 C62.88,282.77 59.10,280.88 57.15,279.50 C55.20,278.12 53.92,276.63 53.15,275.60 C52.38,274.57 52.58,274.13 52.55,273.30 C52.52,272.47 52.47,271.97 52.95,270.60 C53.43,269.23 54.20,267.13 55.45,265.10 C56.70,263.07 58.70,260.62 60.45,258.40 C62.20,256.18 64.20,254.00 65.95,251.80 C67.70,249.60 69.58,247.42 70.95,245.20 C72.32,242.98 73.47,240.35 74.15,238.50 C74.83,236.65 74.87,235.52 75.05,234.10 C75.23,232.68 75.22,232.48 75.25,230.00 C75.28,227.52 75.25,221.00 75.25,219.20 Z" fill="#EBCF8E" stroke="#E2A73C" stroke-width="5.20" clip-path="url(#vc7)"/>
<line x1="76.55" y1="241.20" x2="76.55" y2="301.40" stroke="#4F5052" stroke-width="2.7"/>
<rect x="72.85" y="265.70" width="7.4" height="36.20" rx="3.2" fill="#4F5052"/>
<circle cx="76.55" cy="280.00" r="1.8" fill="#fff"/>
<clipPath id="vc8"><path d="M174.65,192.20 C174.65,194.33 174.58,201.07 174.65,205.00 C174.72,208.93 174.75,212.37 175.05,215.80 C175.35,219.23 175.68,222.58 176.45,225.60 C177.22,228.62 178.43,231.50 179.65,233.90 C180.87,236.30 180.32,237.75 183.75,240.00 C187.18,242.25 194.68,244.95 200.25,247.40 C205.82,249.85 213.92,253.13 217.15,254.70 C220.38,256.27 219.08,256.25 219.65,256.80 C220.22,257.35 220.37,257.47 220.55,258.00 C220.73,258.53 220.75,259.32 220.75,260.00 C220.75,260.68 220.90,261.02 220.55,262.10 C220.20,263.18 220.07,265.02 218.65,266.50 C217.23,267.98 214.63,269.52 212.05,271.00 C209.47,272.48 205.73,273.93 203.15,275.40 C200.57,276.87 198.33,278.33 196.55,279.80 C194.77,281.27 193.18,282.97 192.45,284.20 C191.72,285.43 191.35,285.97 192.15,287.20 C192.95,288.43 195.17,290.00 197.25,291.60 C199.33,293.20 203.27,295.57 204.65,296.80 C206.03,298.03 205.37,298.23 205.55,299.00 C205.73,299.77 205.72,301.00 205.75,301.40 L140.95,301.40 C140.98,301.00 140.97,299.77 141.15,299.00 C141.33,298.23 140.67,298.03 142.05,296.80 C143.43,295.57 147.37,293.20 149.45,291.60 C151.53,290.00 153.75,288.43 154.55,287.20 C155.35,285.97 154.98,285.43 154.25,284.20 C153.52,282.97 151.93,281.27 150.15,279.80 C148.37,278.33 146.13,276.87 143.55,275.40 C140.97,273.93 137.23,272.48 134.65,271.00 C132.07,269.52 129.47,267.98 128.05,266.50 C126.63,265.02 126.50,263.18 126.15,262.10 C125.80,261.02 125.95,260.68 125.95,260.00 C125.95,259.32 125.97,258.53 126.15,258.00 C126.33,257.47 126.48,257.35 127.05,256.80 C127.62,256.25 126.32,256.27 129.55,254.70 C132.78,253.13 140.88,249.85 146.45,247.40 C152.02,244.95 159.52,242.25 162.95,240.00 C166.38,237.75 165.83,236.30 167.05,233.90 C168.27,231.50 169.48,228.62 170.25,225.60 C171.02,222.58 171.35,219.23 171.65,215.80 C171.95,212.37 171.98,208.93 172.05,205.00 C172.12,201.07 172.05,194.33 172.05,192.20 Z"/></clipPath>
<path d="M174.65,192.20 C174.65,194.33 174.58,201.07 174.65,205.00 C174.72,208.93 174.75,212.37 175.05,215.80 C175.35,219.23 175.68,222.58 176.45,225.60 C177.22,228.62 178.43,231.50 179.65,233.90 C180.87,236.30 180.32,237.75 183.75,240.00 C187.18,242.25 194.68,244.95 200.25,247.40 C205.82,249.85 213.92,253.13 217.15,254.70 C220.38,256.27 219.08,256.25 219.65,256.80 C220.22,257.35 220.37,257.47 220.55,258.00 C220.73,258.53 220.75,259.32 220.75,260.00 C220.75,260.68 220.90,261.02 220.55,262.10 C220.20,263.18 220.07,265.02 218.65,266.50 C217.23,267.98 214.63,269.52 212.05,271.00 C209.47,272.48 205.73,273.93 203.15,275.40 C200.57,276.87 198.33,278.33 196.55,279.80 C194.77,281.27 193.18,282.97 192.45,284.20 C191.72,285.43 191.35,285.97 192.15,287.20 C192.95,288.43 195.17,290.00 197.25,291.60 C199.33,293.20 203.27,295.57 204.65,296.80 C206.03,298.03 205.37,298.23 205.55,299.00 C205.73,299.77 205.72,301.00 205.75,301.40 L140.95,301.40 C140.98,301.00 140.97,299.77 141.15,299.00 C141.33,298.23 140.67,298.03 142.05,296.80 C143.43,295.57 147.37,293.20 149.45,291.60 C151.53,290.00 153.75,288.43 154.55,287.20 C155.35,285.97 154.98,285.43 154.25,284.20 C153.52,282.97 151.93,281.27 150.15,279.80 C148.37,278.33 146.13,276.87 143.55,275.40 C140.97,273.93 137.23,272.48 134.65,271.00 C132.07,269.52 129.47,267.98 128.05,266.50 C126.63,265.02 126.50,263.18 126.15,262.10 C125.80,261.02 125.95,260.68 125.95,260.00 C125.95,259.32 125.97,258.53 126.15,258.00 C126.33,257.47 126.48,257.35 127.05,256.80 C127.62,256.25 126.32,256.27 129.55,254.70 C132.78,253.13 140.88,249.85 146.45,247.40 C152.02,244.95 159.52,242.25 162.95,240.00 C166.38,237.75 165.83,236.30 167.05,233.90 C168.27,231.50 169.48,228.62 170.25,225.60 C171.02,222.58 171.35,219.23 171.65,215.80 C171.95,212.37 171.98,208.93 172.05,205.00 C172.12,201.07 172.05,194.33 172.05,192.20 Z" fill="#EDB093" stroke="#E8784A" stroke-width="5.20" clip-path="url(#vc8)"/>
<line x1="173.35" y1="229.50" x2="173.35" y2="301.40" stroke="#4F5052" stroke-width="2.7"/>
<rect x="169.65" y="256.50" width="7.4" height="45.70" rx="3.2" fill="#4F5052"/>
<circle cx="173.35" cy="268.60" r="1.8" fill="#fff"/>
<clipPath id="vc9"><path d="M287.70,222.20 C287.70,228.50 287.70,248.03 287.70,260.00 C287.70,271.97 287.70,287.90 287.70,294.00 C287.70,300.10 287.42,296.03 287.70,296.60 C287.98,297.17 288.28,297.22 289.40,297.40 C290.52,297.58 292.23,297.58 294.40,297.70 C296.57,297.82 299.07,297.93 302.40,298.10 C305.73,298.27 310.40,298.48 314.40,298.70 C318.40,298.92 323.30,299.37 326.40,299.40 C329.50,299.43 331.67,298.78 333.00,298.90 C334.33,299.02 334.17,299.68 334.40,300.10 C334.63,300.52 334.40,301.18 334.40,301.40 L238.40,301.40 C238.40,301.18 238.17,300.52 238.40,300.10 C238.63,299.68 238.47,299.02 239.80,298.90 C241.13,298.78 243.30,299.43 246.40,299.40 C249.50,299.37 254.40,298.92 258.40,298.70 C262.40,298.48 267.07,298.27 270.40,298.10 C273.73,297.93 276.23,297.82 278.40,297.70 C280.57,297.58 282.28,297.58 283.40,297.40 C284.52,297.22 284.82,297.17 285.10,296.60 C285.38,296.03 285.10,300.10 285.10,294.00 C285.10,287.90 285.10,271.97 285.10,260.00 C285.10,248.03 285.10,228.50 285.10,222.20 Z"/></clipPath>
<path d="M287.70,222.20 C287.70,228.50 287.70,248.03 287.70,260.00 C287.70,271.97 287.70,287.90 287.70,294.00 C287.70,300.10 287.42,296.03 287.70,296.60 C287.98,297.17 288.28,297.22 289.40,297.40 C290.52,297.58 292.23,297.58 294.40,297.70 C296.57,297.82 299.07,297.93 302.40,298.10 C305.73,298.27 310.40,298.48 314.40,298.70 C318.40,298.92 323.30,299.37 326.40,299.40 C329.50,299.43 331.67,298.78 333.00,298.90 C334.33,299.02 334.17,299.68 334.40,300.10 C334.63,300.52 334.40,301.18 334.40,301.40 L238.40,301.40 C238.40,301.18 238.17,300.52 238.40,300.10 C238.63,299.68 238.47,299.02 239.80,298.90 C241.13,298.78 243.30,299.43 246.40,299.40 C249.50,299.37 254.40,298.92 258.40,298.70 C262.40,298.48 267.07,298.27 270.40,298.10 C273.73,297.93 276.23,297.82 278.40,297.70 C280.57,297.58 282.28,297.58 283.40,297.40 C284.52,297.22 284.82,297.17 285.10,296.60 C285.38,296.03 285.10,300.10 285.10,294.00 C285.10,287.90 285.10,271.97 285.10,260.00 C285.10,248.03 285.10,228.50 285.10,222.20 Z" fill="#EBCF8E" stroke="#E2A73C" stroke-width="5.20" clip-path="url(#vc9)"/>
<line x1="286.40" y1="241.20" x2="286.40" y2="301.40" stroke="#4F5052" stroke-width="2.7"/>
<circle cx="286.40" cy="300.80" r="1.2" fill="#fff"/>
<clipPath id="vc10"><path d="M384.50,207.50 C384.50,208.42 384.45,211.13 384.50,213.00 C384.55,214.87 384.23,216.70 384.80,218.70 C385.37,220.70 386.35,222.70 387.90,225.00 C389.45,227.30 391.82,230.00 394.10,232.50 C396.38,235.00 399.62,237.93 401.60,240.00 C403.58,242.07 405.02,243.57 406.00,244.90 C406.98,246.23 407.10,247.07 407.50,248.00 C407.90,248.93 407.50,249.55 408.40,250.50 C409.30,251.45 410.28,252.55 412.90,253.70 C415.52,254.85 421.47,256.42 424.10,257.40 C426.73,258.38 427.70,258.97 428.70,259.60 C429.70,260.23 430.10,260.67 430.10,261.20 C430.10,261.73 429.70,262.18 428.70,262.80 C427.70,263.42 427.57,263.92 424.10,264.90 C420.63,265.88 413.10,267.23 407.90,268.70 C402.70,270.17 396.45,271.83 392.90,273.70 C389.35,275.57 387.98,277.62 386.60,279.90 C385.22,282.18 384.95,284.80 384.60,287.40 C384.25,290.00 384.52,294.15 384.50,295.50 L381.90,295.50 C381.88,294.15 382.15,290.00 381.80,287.40 C381.45,284.80 381.18,282.18 379.80,279.90 C378.42,277.62 377.05,275.57 373.50,273.70 C369.95,271.83 363.70,270.17 358.50,268.70 C353.30,267.23 345.77,265.88 342.30,264.90 C338.83,263.92 338.70,263.42 337.70,262.80 C336.70,262.18 336.30,261.73 336.30,261.20 C336.30,260.67 336.70,260.23 337.70,259.60 C338.70,258.97 339.67,258.38 342.30,257.40 C344.93,256.42 350.88,254.85 353.50,253.70 C356.12,252.55 357.10,251.45 358.00,250.50 C358.90,249.55 358.50,248.93 358.90,248.00 C359.30,247.07 359.42,246.23 360.40,244.90 C361.38,243.57 362.82,242.07 364.80,240.00 C366.78,237.93 370.02,235.00 372.30,232.50 C374.58,230.00 376.95,227.30 378.50,225.00 C380.05,222.70 381.03,220.70 381.60,218.70 C382.17,216.70 381.85,214.87 381.90,213.00 C381.95,211.13 381.90,208.42 381.90,207.50 Z"/></clipPath>
<path d="M384.50,207.50 C384.50,208.42 384.45,211.13 384.50,213.00 C384.55,214.87 384.23,216.70 384.80,218.70 C385.37,220.70 386.35,222.70 387.90,225.00 C389.45,227.30 391.82,230.00 394.10,232.50 C396.38,235.00 399.62,237.93 401.60,240.00 C403.58,242.07 405.02,243.57 406.00,244.90 C406.98,246.23 407.10,247.07 407.50,248.00 C407.90,248.93 407.50,249.55 408.40,250.50 C409.30,251.45 410.28,252.55 412.90,253.70 C415.52,254.85 421.47,256.42 424.10,257.40 C426.73,258.38 427.70,258.97 428.70,259.60 C429.70,260.23 430.10,260.67 430.10,261.20 C430.10,261.73 429.70,262.18 428.70,262.80 C427.70,263.42 427.57,263.92 424.10,264.90 C420.63,265.88 413.10,267.23 407.90,268.70 C402.70,270.17 396.45,271.83 392.90,273.70 C389.35,275.57 387.98,277.62 386.60,279.90 C385.22,282.18 384.95,284.80 384.60,287.40 C384.25,290.00 384.52,294.15 384.50,295.50 L381.90,295.50 C381.88,294.15 382.15,290.00 381.80,287.40 C381.45,284.80 381.18,282.18 379.80,279.90 C378.42,277.62 377.05,275.57 373.50,273.70 C369.95,271.83 363.70,270.17 358.50,268.70 C353.30,267.23 345.77,265.88 342.30,264.90 C338.83,263.92 338.70,263.42 337.70,262.80 C336.70,262.18 336.30,261.73 336.30,261.20 C336.30,260.67 336.70,260.23 337.70,259.60 C338.70,258.97 339.67,258.38 342.30,257.40 C344.93,256.42 350.88,254.85 353.50,253.70 C356.12,252.55 357.10,251.45 358.00,250.50 C358.90,249.55 358.50,248.93 358.90,248.00 C359.30,247.07 359.42,246.23 360.40,244.90 C361.38,243.57 362.82,242.07 364.80,240.00 C366.78,237.93 370.02,235.00 372.30,232.50 C374.58,230.00 376.95,227.30 378.50,225.00 C380.05,222.70 381.03,220.70 381.60,218.70 C382.17,216.70 381.85,214.87 381.90,213.00 C381.95,211.13 381.90,208.42 381.90,207.50 Z" fill="#EDB093" stroke="#E8784A" stroke-width="5.20" clip-path="url(#vc10)"/>
<line x1="383.20" y1="226.20" x2="383.20" y2="276.20" stroke="#4F5052" stroke-width="2.7"/>
<rect x="379.50" y="245.10" width="7.4" height="22.30" rx="3.2" fill="#4F5052"/>
<circle cx="383.20" cy="259.30" r="1.8" fill="#fff"/>
<rect x="382.10" y="299.5" width="2.2" height="4.2" rx="1" fill="#000"/>
<clipPath id="vc11"><path d="M496.50,216.00 C496.50,220.00 496.42,235.33 496.50,240.00 C496.58,244.67 497.00,242.67 497.00,244.00 C497.00,245.33 496.57,246.33 496.50,248.00 C496.43,249.67 496.48,252.25 496.60,254.00 C496.72,255.75 497.20,257.17 497.20,258.50 C497.20,259.83 496.67,260.75 496.60,262.00 C496.53,263.25 496.65,264.67 496.80,266.00 C496.95,267.33 497.23,268.75 497.50,270.00 C497.77,271.25 498.37,272.33 498.40,273.50 C498.43,274.67 497.93,275.92 497.70,277.00 C497.47,278.08 497.10,278.83 497.00,280.00 C496.90,281.17 497.18,282.67 497.10,284.00 C497.02,285.33 496.60,286.33 496.50,288.00 C496.40,289.67 496.50,292.57 496.50,294.00 C496.50,295.43 496.22,296.03 496.50,296.60 C496.78,297.17 497.08,297.22 498.20,297.40 C499.32,297.58 501.03,297.58 503.20,297.70 C505.37,297.82 507.87,297.93 511.20,298.10 C514.53,298.27 519.20,298.48 523.20,298.70 C527.20,298.92 532.10,299.37 535.20,299.40 C538.30,299.43 540.47,298.78 541.80,298.90 C543.13,299.02 542.97,299.68 543.20,300.10 C543.43,300.52 543.20,301.18 543.20,301.40 L447.20,301.40 C447.20,301.18 446.97,300.52 447.20,300.10 C447.43,299.68 447.27,299.02 448.60,298.90 C449.93,298.78 452.10,299.43 455.20,299.40 C458.30,299.37 463.20,298.92 467.20,298.70 C471.20,298.48 475.87,298.27 479.20,298.10 C482.53,297.93 485.03,297.82 487.20,297.70 C489.37,297.58 491.08,297.58 492.20,297.40 C493.32,297.22 493.62,297.17 493.90,296.60 C494.18,296.03 493.90,295.43 493.90,294.00 C493.90,292.57 494.00,289.67 493.90,288.00 C493.80,286.33 493.38,285.33 493.30,284.00 C493.22,282.67 493.50,281.17 493.40,280.00 C493.30,278.83 492.93,278.08 492.70,277.00 C492.47,275.92 491.97,274.67 492.00,273.50 C492.03,272.33 492.63,271.25 492.90,270.00 C493.17,268.75 493.45,267.33 493.60,266.00 C493.75,264.67 493.87,263.25 493.80,262.00 C493.73,260.75 493.20,259.83 493.20,258.50 C493.20,257.17 493.68,255.75 493.80,254.00 C493.92,252.25 493.97,249.67 493.90,248.00 C493.83,246.33 493.40,245.33 493.40,244.00 C493.40,242.67 493.82,244.67 493.90,240.00 C493.98,235.33 493.90,220.00 493.90,216.00 Z"/></clipPath>
<path d="M496.50,216.00 C496.50,220.00 496.42,235.33 496.50,240.00 C496.58,244.67 497.00,242.67 497.00,244.00 C497.00,245.33 496.57,246.33 496.50,248.00 C496.43,249.67 496.48,252.25 496.60,254.00 C496.72,255.75 497.20,257.17 497.20,258.50 C497.20,259.83 496.67,260.75 496.60,262.00 C496.53,263.25 496.65,264.67 496.80,266.00 C496.95,267.33 497.23,268.75 497.50,270.00 C497.77,271.25 498.37,272.33 498.40,273.50 C498.43,274.67 497.93,275.92 497.70,277.00 C497.47,278.08 497.10,278.83 497.00,280.00 C496.90,281.17 497.18,282.67 497.10,284.00 C497.02,285.33 496.60,286.33 496.50,288.00 C496.40,289.67 496.50,292.57 496.50,294.00 C496.50,295.43 496.22,296.03 496.50,296.60 C496.78,297.17 497.08,297.22 498.20,297.40 C499.32,297.58 501.03,297.58 503.20,297.70 C505.37,297.82 507.87,297.93 511.20,298.10 C514.53,298.27 519.20,298.48 523.20,298.70 C527.20,298.92 532.10,299.37 535.20,299.40 C538.30,299.43 540.47,298.78 541.80,298.90 C543.13,299.02 542.97,299.68 543.20,300.10 C543.43,300.52 543.20,301.18 543.20,301.40 L447.20,301.40 C447.20,301.18 446.97,300.52 447.20,300.10 C447.43,299.68 447.27,299.02 448.60,298.90 C449.93,298.78 452.10,299.43 455.20,299.40 C458.30,299.37 463.20,298.92 467.20,298.70 C471.20,298.48 475.87,298.27 479.20,298.10 C482.53,297.93 485.03,297.82 487.20,297.70 C489.37,297.58 491.08,297.58 492.20,297.40 C493.32,297.22 493.62,297.17 493.90,296.60 C494.18,296.03 493.90,295.43 493.90,294.00 C493.90,292.57 494.00,289.67 493.90,288.00 C493.80,286.33 493.38,285.33 493.30,284.00 C493.22,282.67 493.50,281.17 493.40,280.00 C493.30,278.83 492.93,278.08 492.70,277.00 C492.47,275.92 491.97,274.67 492.00,273.50 C492.03,272.33 492.63,271.25 492.90,270.00 C493.17,268.75 493.45,267.33 493.60,266.00 C493.75,264.67 493.87,263.25 493.80,262.00 C493.73,260.75 493.20,259.83 493.20,258.50 C493.20,257.17 493.68,255.75 493.80,254.00 C493.92,252.25 493.97,249.67 493.90,248.00 C493.83,246.33 493.40,245.33 493.40,244.00 C493.40,242.67 493.82,244.67 493.90,240.00 C493.98,235.33 493.90,220.00 493.90,216.00 Z" fill="#EBCF8E" stroke="#E2A73C" stroke-width="5.20" clip-path="url(#vc11)"/>
<line x1="495.20" y1="233.90" x2="495.20" y2="301.40" stroke="#4F5052" stroke-width="2.7"/>
<circle cx="495.20" cy="300.80" r="1.2" fill="#fff"/>
<clipPath id="vc12"><path d="M593.20,216.20 C593.20,216.83 593.15,218.58 593.20,220.00 C593.25,221.42 593.15,222.60 593.50,224.70 C593.85,226.80 594.30,229.78 595.30,232.60 C596.30,235.42 597.95,238.58 599.50,241.60 C601.05,244.62 602.92,247.68 604.60,250.70 C606.28,253.72 608.25,257.07 609.60,259.70 C610.95,262.33 612.13,264.62 612.70,266.50 C613.27,268.38 613.42,269.50 613.00,271.00 C612.58,272.50 611.23,274.00 610.20,275.50 C609.17,277.00 607.27,278.68 606.80,280.00 C606.33,281.32 606.47,282.27 607.40,283.40 C608.33,284.53 609.68,285.48 612.40,286.80 C615.12,288.12 620.12,289.80 623.70,291.30 C627.28,292.80 631.27,294.42 633.90,295.80 C636.53,297.18 638.50,298.67 639.50,299.60 C640.50,300.53 639.83,301.10 639.90,301.40 L543.90,301.40 C543.97,301.10 543.30,300.53 544.30,299.60 C545.30,298.67 547.27,297.18 549.90,295.80 C552.53,294.42 556.52,292.80 560.10,291.30 C563.68,289.80 568.68,288.12 571.40,286.80 C574.12,285.48 575.47,284.53 576.40,283.40 C577.33,282.27 577.47,281.32 577.00,280.00 C576.53,278.68 574.63,277.00 573.60,275.50 C572.57,274.00 571.22,272.50 570.80,271.00 C570.38,269.50 570.53,268.38 571.10,266.50 C571.67,264.62 572.85,262.33 574.20,259.70 C575.55,257.07 577.52,253.72 579.20,250.70 C580.88,247.68 582.75,244.62 584.30,241.60 C585.85,238.58 587.50,235.42 588.50,232.60 C589.50,229.78 589.95,226.80 590.30,224.70 C590.65,222.60 590.55,221.42 590.60,220.00 C590.65,218.58 590.60,216.83 590.60,216.20 Z"/></clipPath>
<path d="M593.20,216.20 C593.20,216.83 593.15,218.58 593.20,220.00 C593.25,221.42 593.15,222.60 593.50,224.70 C593.85,226.80 594.30,229.78 595.30,232.60 C596.30,235.42 597.95,238.58 599.50,241.60 C601.05,244.62 602.92,247.68 604.60,250.70 C606.28,253.72 608.25,257.07 609.60,259.70 C610.95,262.33 612.13,264.62 612.70,266.50 C613.27,268.38 613.42,269.50 613.00,271.00 C612.58,272.50 611.23,274.00 610.20,275.50 C609.17,277.00 607.27,278.68 606.80,280.00 C606.33,281.32 606.47,282.27 607.40,283.40 C608.33,284.53 609.68,285.48 612.40,286.80 C615.12,288.12 620.12,289.80 623.70,291.30 C627.28,292.80 631.27,294.42 633.90,295.80 C636.53,297.18 638.50,298.67 639.50,299.60 C640.50,300.53 639.83,301.10 639.90,301.40 L543.90,301.40 C543.97,301.10 543.30,300.53 544.30,299.60 C545.30,298.67 547.27,297.18 549.90,295.80 C552.53,294.42 556.52,292.80 560.10,291.30 C563.68,289.80 568.68,288.12 571.40,286.80 C574.12,285.48 575.47,284.53 576.40,283.40 C577.33,282.27 577.47,281.32 577.00,280.00 C576.53,278.68 574.63,277.00 573.60,275.50 C572.57,274.00 571.22,272.50 570.80,271.00 C570.38,269.50 570.53,268.38 571.10,266.50 C571.67,264.62 572.85,262.33 574.20,259.70 C575.55,257.07 577.52,253.72 579.20,250.70 C580.88,247.68 582.75,244.62 584.30,241.60 C585.85,238.58 587.50,235.42 588.50,232.60 C589.50,229.78 589.95,226.80 590.30,224.70 C590.65,222.60 590.55,221.42 590.60,220.00 C590.65,218.58 590.60,216.83 590.60,216.20 Z" fill="#EDB093" stroke="#E8784A" stroke-width="5.20" clip-path="url(#vc12)"/>
<line x1="591.90" y1="234.00" x2="591.90" y2="301.40" stroke="#4F5052" stroke-width="2.7"/>
<rect x="588.20" y="268.80" width="7.4" height="33.00" rx="3.2" fill="#4F5052"/>
<circle cx="591.90" cy="299.70" r="1.8" fill="#fff"/>
<clipPath id="vc13"><path d="M77.95,346.50 C77.97,350.42 78.02,363.92 78.05,370.00 C78.08,376.08 78.07,380.15 78.15,383.00 C78.23,385.85 78.13,385.55 78.55,387.10 C78.97,388.65 79.65,390.33 80.65,392.30 C81.65,394.27 83.53,397.20 84.55,398.90 C85.57,400.60 86.17,401.20 86.75,402.50 C87.33,403.80 87.95,405.45 88.05,406.70 C88.15,407.95 87.72,408.90 87.35,410.00 C86.98,411.10 86.88,411.67 85.85,413.30 C84.82,414.93 82.05,417.85 81.15,419.80 C80.25,421.75 80.50,422.93 80.45,425.00 C80.40,427.07 80.25,430.75 80.85,432.20 C81.45,433.65 82.63,433.15 84.05,433.70 C85.47,434.25 85.88,434.55 89.35,435.50 C92.82,436.45 99.98,438.10 104.85,439.40 C109.72,440.70 115.33,442.27 118.55,443.30 C121.77,444.33 123.15,444.97 124.15,445.60 C125.15,446.23 124.48,446.85 124.55,447.10 L28.55,447.10 C28.62,446.85 27.95,446.23 28.95,445.60 C29.95,444.97 31.33,444.33 34.55,443.30 C37.77,442.27 43.38,440.70 48.25,439.40 C53.12,438.10 60.28,436.45 63.75,435.50 C67.22,434.55 67.63,434.25 69.05,433.70 C70.47,433.15 71.65,433.65 72.25,432.20 C72.85,430.75 72.70,427.07 72.65,425.00 C72.60,422.93 72.85,421.75 71.95,419.80 C71.05,417.85 68.28,414.93 67.25,413.30 C66.22,411.67 66.12,411.10 65.75,410.00 C65.38,408.90 64.95,407.95 65.05,406.70 C65.15,405.45 65.77,403.80 66.35,402.50 C66.93,401.20 67.53,400.60 68.55,398.90 C69.57,397.20 71.45,394.27 72.45,392.30 C73.45,390.33 74.13,388.65 74.55,387.10 C74.97,385.55 74.87,385.85 74.95,383.00 C75.03,380.15 75.02,376.08 75.05,370.00 C75.08,363.92 75.13,350.42 75.15,346.50 Z"/></clipPath>
<path d="M77.95,346.50 C77.97,350.42 78.02,363.92 78.05,370.00 C78.08,376.08 78.07,380.15 78.15,383.00 C78.23,385.85 78.13,385.55 78.55,387.10 C78.97,388.65 79.65,390.33 80.65,392.30 C81.65,394.27 83.53,397.20 84.55,398.90 C85.57,400.60 86.17,401.20 86.75,402.50 C87.33,403.80 87.95,405.45 88.05,406.70 C88.15,407.95 87.72,408.90 87.35,410.00 C86.98,411.10 86.88,411.67 85.85,413.30 C84.82,414.93 82.05,417.85 81.15,419.80 C80.25,421.75 80.50,422.93 80.45,425.00 C80.40,427.07 80.25,430.75 80.85,432.20 C81.45,433.65 82.63,433.15 84.05,433.70 C85.47,434.25 85.88,434.55 89.35,435.50 C92.82,436.45 99.98,438.10 104.85,439.40 C109.72,440.70 115.33,442.27 118.55,443.30 C121.77,444.33 123.15,444.97 124.15,445.60 C125.15,446.23 124.48,446.85 124.55,447.10 L28.55,447.10 C28.62,446.85 27.95,446.23 28.95,445.60 C29.95,444.97 31.33,444.33 34.55,443.30 C37.77,442.27 43.38,440.70 48.25,439.40 C53.12,438.10 60.28,436.45 63.75,435.50 C67.22,434.55 67.63,434.25 69.05,433.70 C70.47,433.15 71.65,433.65 72.25,432.20 C72.85,430.75 72.70,427.07 72.65,425.00 C72.60,422.93 72.85,421.75 71.95,419.80 C71.05,417.85 68.28,414.93 67.25,413.30 C66.22,411.67 66.12,411.10 65.75,410.00 C65.38,408.90 64.95,407.95 65.05,406.70 C65.15,405.45 65.77,403.80 66.35,402.50 C66.93,401.20 67.53,400.60 68.55,398.90 C69.57,397.20 71.45,394.27 72.45,392.30 C73.45,390.33 74.13,388.65 74.55,387.10 C74.97,385.55 74.87,385.85 74.95,383.00 C75.03,380.15 75.02,376.08 75.05,370.00 C75.08,363.92 75.13,350.42 75.15,346.50 Z" fill="#EBCF8E" stroke="#E2A73C" stroke-width="5.20" clip-path="url(#vc13)"/>
<line x1="76.55" y1="369.40" x2="76.55" y2="447.10" stroke="#4F5052" stroke-width="2.7"/>
<rect x="72.85" y="412.10" width="7.4" height="35.30" rx="3.2" fill="#4F5052"/>
<circle cx="76.55" cy="445.40" r="1.8" fill="#fff"/>
<clipPath id="vc14"><path d="M174.75,346.50 C174.77,347.42 174.77,350.25 174.85,352.00 C174.93,353.75 174.92,354.63 175.25,357.00 C175.58,359.37 175.90,362.93 176.85,366.20 C177.80,369.47 179.38,373.12 180.95,376.60 C182.52,380.08 184.72,384.05 186.25,387.10 C187.78,390.15 189.10,392.28 190.15,394.90 C191.20,397.52 192.43,400.40 192.55,402.80 C192.67,405.20 192.02,407.12 190.85,409.30 C189.68,411.48 186.82,414.12 185.55,415.90 C184.28,417.68 183.68,418.92 183.25,420.00 C182.82,421.08 182.78,421.35 182.95,422.40 C183.12,423.45 182.62,424.77 184.25,426.30 C185.88,427.83 189.15,429.85 192.75,431.60 C196.35,433.35 201.92,435.07 205.85,436.80 C209.78,438.53 213.82,440.58 216.35,442.00 C218.88,443.42 220.20,444.45 221.05,445.30 C221.90,446.15 221.38,446.80 221.45,447.10 L125.45,447.10 C125.52,446.80 125.00,446.15 125.85,445.30 C126.70,444.45 128.02,443.42 130.55,442.00 C133.08,440.58 137.12,438.53 141.05,436.80 C144.98,435.07 150.55,433.35 154.15,431.60 C157.75,429.85 161.02,427.83 162.65,426.30 C164.28,424.77 163.78,423.45 163.95,422.40 C164.12,421.35 164.08,421.08 163.65,420.00 C163.22,418.92 162.62,417.68 161.35,415.90 C160.08,414.12 157.22,411.48 156.05,409.30 C154.88,407.12 154.23,405.20 154.35,402.80 C154.47,400.40 155.70,397.52 156.75,394.90 C157.80,392.28 159.12,390.15 160.65,387.10 C162.18,384.05 164.38,380.08 165.95,376.60 C167.52,373.12 169.10,369.47 170.05,366.20 C171.00,362.93 171.32,359.37 171.65,357.00 C171.98,354.63 171.97,353.75 172.05,352.00 C172.13,350.25 172.13,347.42 172.15,346.50 Z"/></clipPath>
<path d="M174.75,346.50 C174.77,347.42 174.77,350.25 174.85,352.00 C174.93,353.75 174.92,354.63 175.25,357.00 C175.58,359.37 175.90,362.93 176.85,366.20 C177.80,369.47 179.38,373.12 180.95,376.60 C182.52,380.08 184.72,384.05 186.25,387.10 C187.78,390.15 189.10,392.28 190.15,394.90 C191.20,397.52 192.43,400.40 192.55,402.80 C192.67,405.20 192.02,407.12 190.85,409.30 C189.68,411.48 186.82,414.12 185.55,415.90 C184.28,417.68 183.68,418.92 183.25,420.00 C182.82,421.08 182.78,421.35 182.95,422.40 C183.12,423.45 182.62,424.77 184.25,426.30 C185.88,427.83 189.15,429.85 192.75,431.60 C196.35,433.35 201.92,435.07 205.85,436.80 C209.78,438.53 213.82,440.58 216.35,442.00 C218.88,443.42 220.20,444.45 221.05,445.30 C221.90,446.15 221.38,446.80 221.45,447.10 L125.45,447.10 C125.52,446.80 125.00,446.15 125.85,445.30 C126.70,444.45 128.02,443.42 130.55,442.00 C133.08,440.58 137.12,438.53 141.05,436.80 C144.98,435.07 150.55,433.35 154.15,431.60 C157.75,429.85 161.02,427.83 162.65,426.30 C164.28,424.77 163.78,423.45 163.95,422.40 C164.12,421.35 164.08,421.08 163.65,420.00 C163.22,418.92 162.62,417.68 161.35,415.90 C160.08,414.12 157.22,411.48 156.05,409.30 C154.88,407.12 154.23,405.20 154.35,402.80 C154.47,400.40 155.70,397.52 156.75,394.90 C157.80,392.28 159.12,390.15 160.65,387.10 C162.18,384.05 164.38,380.08 165.95,376.60 C167.52,373.12 169.10,369.47 170.05,366.20 C171.00,362.93 171.32,359.37 171.65,357.00 C171.98,354.63 171.97,353.75 172.05,352.00 C172.13,350.25 172.13,347.42 172.15,346.50 Z" fill="#EDB093" stroke="#E8784A" stroke-width="5.20" clip-path="url(#vc14)"/>
<rect x="166.1" y="445.0" width="13.9" height="2.1" fill="#000"/>
<line x1="173.45" y1="364.00" x2="173.45" y2="447.10" stroke="#4F5052" stroke-width="2.7"/>
<rect x="169.75" y="403.60" width="7.4" height="43.80" rx="3.2" fill="#4F5052"/>
<circle cx="173.45" cy="445.40" r="1.8" fill="#fff"/>
<clipPath id="vc15"><path d="M287.90,346.50 C287.92,349.42 287.88,359.85 288.00,364.00 C288.12,368.15 288.10,368.87 288.60,371.40 C289.10,373.93 290.13,376.15 291.00,379.20 C291.87,382.25 293.07,386.63 293.80,389.70 C294.53,392.77 294.95,394.77 295.40,397.60 C295.85,400.43 296.58,404.08 296.50,406.70 C296.42,409.32 295.78,411.12 294.90,413.30 C294.02,415.48 291.95,417.85 291.20,419.80 C290.45,421.75 290.47,423.25 290.40,425.00 C290.33,426.75 290.20,429.17 290.80,430.30 C291.40,431.43 292.58,431.25 294.00,431.80 C295.42,432.35 295.83,432.65 299.30,433.60 C302.77,434.55 309.93,436.20 314.80,437.50 C319.67,438.80 325.28,440.05 328.50,441.40 C331.72,442.75 333.10,444.65 334.10,445.60 C335.10,446.55 334.43,446.85 334.50,447.10 L238.50,447.10 C238.57,446.85 237.90,446.55 238.90,445.60 C239.90,444.65 241.28,442.75 244.50,441.40 C247.72,440.05 253.33,438.80 258.20,437.50 C263.07,436.20 270.23,434.55 273.70,433.60 C277.17,432.65 277.58,432.35 279.00,431.80 C280.42,431.25 281.60,431.43 282.20,430.30 C282.80,429.17 282.67,426.75 282.60,425.00 C282.53,423.25 282.55,421.75 281.80,419.80 C281.05,417.85 278.98,415.48 278.10,413.30 C277.22,411.12 276.58,409.32 276.50,406.70 C276.42,404.08 277.15,400.43 277.60,397.60 C278.05,394.77 278.47,392.77 279.20,389.70 C279.93,386.63 281.13,382.25 282.00,379.20 C282.87,376.15 283.90,373.93 284.40,371.40 C284.90,368.87 284.88,368.15 285.00,364.00 C285.12,359.85 285.08,349.42 285.10,346.50 Z"/></clipPath>
<path d="M287.90,346.50 C287.92,349.42 287.88,359.85 288.00,364.00 C288.12,368.15 288.10,368.87 288.60,371.40 C289.10,373.93 290.13,376.15 291.00,379.20 C291.87,382.25 293.07,386.63 293.80,389.70 C294.53,392.77 294.95,394.77 295.40,397.60 C295.85,400.43 296.58,404.08 296.50,406.70 C296.42,409.32 295.78,411.12 294.90,413.30 C294.02,415.48 291.95,417.85 291.20,419.80 C290.45,421.75 290.47,423.25 290.40,425.00 C290.33,426.75 290.20,429.17 290.80,430.30 C291.40,431.43 292.58,431.25 294.00,431.80 C295.42,432.35 295.83,432.65 299.30,433.60 C302.77,434.55 309.93,436.20 314.80,437.50 C319.67,438.80 325.28,440.05 328.50,441.40 C331.72,442.75 333.10,444.65 334.10,445.60 C335.10,446.55 334.43,446.85 334.50,447.10 L238.50,447.10 C238.57,446.85 237.90,446.55 238.90,445.60 C239.90,444.65 241.28,442.75 244.50,441.40 C247.72,440.05 253.33,438.80 258.20,437.50 C263.07,436.20 270.23,434.55 273.70,433.60 C277.17,432.65 277.58,432.35 279.00,431.80 C280.42,431.25 281.60,431.43 282.20,430.30 C282.80,429.17 282.67,426.75 282.60,425.00 C282.53,423.25 282.55,421.75 281.80,419.80 C281.05,417.85 278.98,415.48 278.10,413.30 C277.22,411.12 276.58,409.32 276.50,406.70 C276.42,404.08 277.15,400.43 277.60,397.60 C278.05,394.77 278.47,392.77 279.20,389.70 C279.93,386.63 281.13,382.25 282.00,379.20 C282.87,376.15 283.90,373.93 284.40,371.40 C284.90,368.87 284.88,368.15 285.00,364.00 C285.12,359.85 285.08,349.42 285.10,346.50 Z" fill="#EBCF8E" stroke="#E2A73C" stroke-width="5.20" clip-path="url(#vc15)"/>
<line x1="286.50" y1="364.20" x2="286.50" y2="447.10" stroke="#4F5052" stroke-width="2.7"/>
<rect x="282.80" y="410.10" width="7.4" height="37.30" rx="3.2" fill="#4F5052"/>
<circle cx="286.50" cy="445.40" r="1.8" fill="#fff"/>
<clipPath id="vc16"><path d="M384.60,338.30 C384.62,339.08 384.50,341.02 384.70,343.00 C384.90,344.98 384.92,347.35 385.80,350.20 C386.68,353.05 388.13,357.05 390.00,360.10 C391.87,363.15 394.67,365.70 397.00,368.50 C399.33,371.30 401.92,374.10 404.00,376.90 C406.08,379.70 408.23,382.50 409.50,385.30 C410.77,388.10 411.72,390.88 411.60,393.70 C411.48,396.52 410.52,399.38 408.80,402.20 C407.08,405.02 403.25,408.03 401.30,410.60 C399.35,413.17 397.87,416.03 397.10,417.60 C396.33,419.17 396.72,419.30 396.70,420.00 C396.68,420.70 396.02,420.57 397.00,421.80 C397.98,423.03 399.78,425.53 402.60,427.40 C405.42,429.27 410.15,431.13 413.90,433.00 C417.65,434.87 422.30,436.73 425.10,438.60 C427.90,440.47 429.67,442.78 430.70,444.20 C431.73,445.62 431.20,446.62 431.30,447.10 L335.30,447.10 C335.40,446.62 334.87,445.62 335.90,444.20 C336.93,442.78 338.70,440.47 341.50,438.60 C344.30,436.73 348.95,434.87 352.70,433.00 C356.45,431.13 361.18,429.27 364.00,427.40 C366.82,425.53 368.62,423.03 369.60,421.80 C370.58,420.57 369.92,420.70 369.90,420.00 C369.88,419.30 370.27,419.17 369.50,417.60 C368.73,416.03 367.25,413.17 365.30,410.60 C363.35,408.03 359.52,405.02 357.80,402.20 C356.08,399.38 355.12,396.52 355.00,393.70 C354.88,390.88 355.83,388.10 357.10,385.30 C358.37,382.50 360.52,379.70 362.60,376.90 C364.68,374.10 367.27,371.30 369.60,368.50 C371.93,365.70 374.73,363.15 376.60,360.10 C378.47,357.05 379.92,353.05 380.80,350.20 C381.68,347.35 381.70,344.98 381.90,343.00 C382.10,341.02 381.98,339.08 382.00,338.30 Z"/></clipPath>
<path d="M384.60,338.30 C384.62,339.08 384.50,341.02 384.70,343.00 C384.90,344.98 384.92,347.35 385.80,350.20 C386.68,353.05 388.13,357.05 390.00,360.10 C391.87,363.15 394.67,365.70 397.00,368.50 C399.33,371.30 401.92,374.10 404.00,376.90 C406.08,379.70 408.23,382.50 409.50,385.30 C410.77,388.10 411.72,390.88 411.60,393.70 C411.48,396.52 410.52,399.38 408.80,402.20 C407.08,405.02 403.25,408.03 401.30,410.60 C399.35,413.17 397.87,416.03 397.10,417.60 C396.33,419.17 396.72,419.30 396.70,420.00 C396.68,420.70 396.02,420.57 397.00,421.80 C397.98,423.03 399.78,425.53 402.60,427.40 C405.42,429.27 410.15,431.13 413.90,433.00 C417.65,434.87 422.30,436.73 425.10,438.60 C427.90,440.47 429.67,442.78 430.70,444.20 C431.73,445.62 431.20,446.62 431.30,447.10 L335.30,447.10 C335.40,446.62 334.87,445.62 335.90,444.20 C336.93,442.78 338.70,440.47 341.50,438.60 C344.30,436.73 348.95,434.87 352.70,433.00 C356.45,431.13 361.18,429.27 364.00,427.40 C366.82,425.53 368.62,423.03 369.60,421.80 C370.58,420.57 369.92,420.70 369.90,420.00 C369.88,419.30 370.27,419.17 369.50,417.60 C368.73,416.03 367.25,413.17 365.30,410.60 C363.35,408.03 359.52,405.02 357.80,402.20 C356.08,399.38 355.12,396.52 355.00,393.70 C354.88,390.88 355.83,388.10 357.10,385.30 C358.37,382.50 360.52,379.70 362.60,376.90 C364.68,374.10 367.27,371.30 369.60,368.50 C371.93,365.70 374.73,363.15 376.60,360.10 C378.47,357.05 379.92,353.05 380.80,350.20 C381.68,347.35 381.70,344.98 381.90,343.00 C382.10,341.02 381.98,339.08 382.00,338.30 Z" fill="#EDB093" stroke="#E8784A" stroke-width="5.20" clip-path="url(#vc16)"/>
<rect x="371.9" y="445.0" width="22.5" height="2.1" fill="#000"/>
<line x1="383.30" y1="357.30" x2="383.30" y2="447.10" stroke="#4F5052" stroke-width="2.7"/>
<rect x="379.60" y="394.60" width="7.4" height="52.80" rx="3.2" fill="#4F5052"/>
<circle cx="383.30" cy="445.40" r="1.8" fill="#fff"/>
<clipPath id="vc17"><path d="M496.50,346.80 C496.50,352.33 496.48,373.47 496.50,380.00 C496.52,386.53 496.48,384.33 496.60,386.00 C496.72,387.67 497.18,388.67 497.20,390.00 C497.22,391.33 496.82,392.67 496.70,394.00 C496.58,395.33 496.45,396.67 496.50,398.00 C496.55,399.33 496.70,400.42 497.00,402.00 C497.30,403.58 498.20,405.83 498.30,407.50 C498.40,409.17 497.83,410.58 497.60,412.00 C497.37,413.42 497.08,414.67 496.90,416.00 C496.72,417.33 496.57,416.33 496.50,420.00 C496.43,423.67 496.50,434.43 496.50,438.00 C496.50,441.57 496.22,440.70 496.50,441.40 C496.78,442.10 497.08,442.02 498.20,442.20 C499.32,442.38 501.03,442.38 503.20,442.50 C505.37,442.62 507.87,442.73 511.20,442.90 C514.53,443.07 519.20,443.28 523.20,443.50 C527.20,443.72 532.10,444.02 535.20,444.20 C538.30,444.38 540.47,444.33 541.80,444.60 C543.13,444.87 542.97,445.38 543.20,445.80 C543.43,446.22 543.20,446.88 543.20,447.10 L447.20,447.10 C447.20,446.88 446.97,446.22 447.20,445.80 C447.43,445.38 447.27,444.87 448.60,444.60 C449.93,444.33 452.10,444.38 455.20,444.20 C458.30,444.02 463.20,443.72 467.20,443.50 C471.20,443.28 475.87,443.07 479.20,442.90 C482.53,442.73 485.03,442.62 487.20,442.50 C489.37,442.38 491.08,442.38 492.20,442.20 C493.32,442.02 493.62,442.10 493.90,441.40 C494.18,440.70 493.90,441.57 493.90,438.00 C493.90,434.43 493.97,423.67 493.90,420.00 C493.83,416.33 493.68,417.33 493.50,416.00 C493.32,414.67 493.03,413.42 492.80,412.00 C492.57,410.58 492.00,409.17 492.10,407.50 C492.20,405.83 493.10,403.58 493.40,402.00 C493.70,400.42 493.85,399.33 493.90,398.00 C493.95,396.67 493.82,395.33 493.70,394.00 C493.58,392.67 493.18,391.33 493.20,390.00 C493.22,388.67 493.68,387.67 493.80,386.00 C493.92,384.33 493.88,386.53 493.90,380.00 C493.92,373.47 493.90,352.33 493.90,346.80 Z"/></clipPath>
<path d="M496.50,346.80 C496.50,352.33 496.48,373.47 496.50,380.00 C496.52,386.53 496.48,384.33 496.60,386.00 C496.72,387.67 497.18,388.67 497.20,390.00 C497.22,391.33 496.82,392.67 496.70,394.00 C496.58,395.33 496.45,396.67 496.50,398.00 C496.55,399.33 496.70,400.42 497.00,402.00 C497.30,403.58 498.20,405.83 498.30,407.50 C498.40,409.17 497.83,410.58 497.60,412.00 C497.37,413.42 497.08,414.67 496.90,416.00 C496.72,417.33 496.57,416.33 496.50,420.00 C496.43,423.67 496.50,434.43 496.50,438.00 C496.50,441.57 496.22,440.70 496.50,441.40 C496.78,442.10 497.08,442.02 498.20,442.20 C499.32,442.38 501.03,442.38 503.20,442.50 C505.37,442.62 507.87,442.73 511.20,442.90 C514.53,443.07 519.20,443.28 523.20,443.50 C527.20,443.72 532.10,444.02 535.20,444.20 C538.30,444.38 540.47,444.33 541.80,444.60 C543.13,444.87 542.97,445.38 543.20,445.80 C543.43,446.22 543.20,446.88 543.20,447.10 L447.20,447.10 C447.20,446.88 446.97,446.22 447.20,445.80 C447.43,445.38 447.27,444.87 448.60,444.60 C449.93,444.33 452.10,444.38 455.20,444.20 C458.30,444.02 463.20,443.72 467.20,443.50 C471.20,443.28 475.87,443.07 479.20,442.90 C482.53,442.73 485.03,442.62 487.20,442.50 C489.37,442.38 491.08,442.38 492.20,442.20 C493.32,442.02 493.62,442.10 493.90,441.40 C494.18,440.70 493.90,441.57 493.90,438.00 C493.90,434.43 493.97,423.67 493.90,420.00 C493.83,416.33 493.68,417.33 493.50,416.00 C493.32,414.67 493.03,413.42 492.80,412.00 C492.57,410.58 492.00,409.17 492.10,407.50 C492.20,405.83 493.10,403.58 493.40,402.00 C493.70,400.42 493.85,399.33 493.90,398.00 C493.95,396.67 493.82,395.33 493.70,394.00 C493.58,392.67 493.18,391.33 493.20,390.00 C493.22,388.67 493.68,387.67 493.80,386.00 C493.92,384.33 493.88,386.53 493.90,380.00 C493.92,373.47 493.90,352.33 493.90,346.80 Z" fill="#EBCF8E" stroke="#E2A73C" stroke-width="5.20" clip-path="url(#vc17)"/>
<line x1="495.20" y1="365.80" x2="495.20" y2="447.10" stroke="#4F5052" stroke-width="2.7"/>
<circle cx="495.20" cy="446.50" r="1.2" fill="#fff"/>
<clipPath id="vc18"><path d="M593.20,355.40 C593.23,355.92 593.27,357.42 593.40,358.50 C593.53,359.58 593.42,360.15 594.00,361.90 C594.58,363.65 595.42,366.23 596.90,369.00 C598.38,371.77 600.92,375.33 602.90,378.50 C604.88,381.67 606.82,384.82 608.80,388.00 C610.78,391.18 613.57,395.02 614.80,397.60 C616.03,400.18 616.30,401.52 616.20,403.50 C616.10,405.48 615.63,407.32 614.20,409.50 C612.77,411.68 609.23,414.77 607.60,416.60 C605.97,418.43 605.02,419.52 604.40,420.50 C603.78,421.48 603.58,421.37 603.90,422.50 C604.22,423.63 603.92,425.52 606.30,427.30 C608.68,429.08 614.03,431.22 618.20,433.20 C622.37,435.18 627.93,437.42 631.30,439.20 C634.67,440.98 636.97,442.58 638.40,443.90 C639.83,445.22 639.65,446.57 639.90,447.10 L543.90,447.10 C544.15,446.57 543.97,445.22 545.40,443.90 C546.83,442.58 549.13,440.98 552.50,439.20 C555.87,437.42 561.43,435.18 565.60,433.20 C569.77,431.22 575.12,429.08 577.50,427.30 C579.88,425.52 579.58,423.63 579.90,422.50 C580.22,421.37 580.02,421.48 579.40,420.50 C578.78,419.52 577.83,418.43 576.20,416.60 C574.57,414.77 571.03,411.68 569.60,409.50 C568.17,407.32 567.70,405.48 567.60,403.50 C567.50,401.52 567.77,400.18 569.00,397.60 C570.23,395.02 573.02,391.18 575.00,388.00 C576.98,384.82 578.92,381.67 580.90,378.50 C582.88,375.33 585.42,371.77 586.90,369.00 C588.38,366.23 589.22,363.65 589.80,361.90 C590.38,360.15 590.27,359.58 590.40,358.50 C590.53,357.42 590.57,355.92 590.60,355.40 Z"/></clipPath>
<path d="M593.20,355.40 C593.23,355.92 593.27,357.42 593.40,358.50 C593.53,359.58 593.42,360.15 594.00,361.90 C594.58,363.65 595.42,366.23 596.90,369.00 C598.38,371.77 600.92,375.33 602.90,378.50 C604.88,381.67 606.82,384.82 608.80,388.00 C610.78,391.18 613.57,395.02 614.80,397.60 C616.03,400.18 616.30,401.52 616.20,403.50 C616.10,405.48 615.63,407.32 614.20,409.50 C612.77,411.68 609.23,414.77 607.60,416.60 C605.97,418.43 605.02,419.52 604.40,420.50 C603.78,421.48 603.58,421.37 603.90,422.50 C604.22,423.63 603.92,425.52 606.30,427.30 C608.68,429.08 614.03,431.22 618.20,433.20 C622.37,435.18 627.93,437.42 631.30,439.20 C634.67,440.98 636.97,442.58 638.40,443.90 C639.83,445.22 639.65,446.57 639.90,447.10 L543.90,447.10 C544.15,446.57 543.97,445.22 545.40,443.90 C546.83,442.58 549.13,440.98 552.50,439.20 C555.87,437.42 561.43,435.18 565.60,433.20 C569.77,431.22 575.12,429.08 577.50,427.30 C579.88,425.52 579.58,423.63 579.90,422.50 C580.22,421.37 580.02,421.48 579.40,420.50 C578.78,419.52 577.83,418.43 576.20,416.60 C574.57,414.77 571.03,411.68 569.60,409.50 C568.17,407.32 567.70,405.48 567.60,403.50 C567.50,401.52 567.77,400.18 569.00,397.60 C570.23,395.02 573.02,391.18 575.00,388.00 C576.98,384.82 578.92,381.67 580.90,378.50 C582.88,375.33 585.42,371.77 586.90,369.00 C588.38,366.23 589.22,363.65 589.80,361.90 C590.38,360.15 590.27,359.58 590.40,358.50 C590.53,357.42 590.57,355.92 590.60,355.40 Z" fill="#EDB093" stroke="#E8784A" stroke-width="5.20" clip-path="url(#vc18)"/>
<rect x="583.9" y="445.0" width="15.1" height="2.1" fill="#000"/>
<line x1="591.90" y1="373.80" x2="591.90" y2="447.10" stroke="#4F5052" stroke-width="2.7"/>
<rect x="588.20" y="403.60" width="7.4" height="43.80" rx="3.2" fill="#4F5052"/>
<circle cx="591.90" cy="445.40" r="1.8" fill="#fff"/>
<polygon points="27.00,46.00 29.70,47.80 29.70,156.30 27.00,156.30" fill="#000"/>
<circle cx="28.35" cy="156.00" r="1.6" fill="#000"/>
<polygon points="236.65,46.00 239.35,47.80 239.35,156.30 236.65,156.30" fill="#000"/>
<circle cx="238.00" cy="156.00" r="1.6" fill="#000"/>
<polygon points="445.35,46.00 448.05,47.80 448.05,156.30 445.35,156.30" fill="#000"/>
<circle cx="446.70" cy="156.00" r="1.6" fill="#000"/>
<polygon points="27.00,191.30 29.70,193.10 29.70,300.90 27.00,300.90" fill="#000"/>
<circle cx="28.35" cy="300.60" r="1.6" fill="#000"/>
<polygon points="236.65,191.30 239.35,193.10 239.35,300.90 236.65,300.90" fill="#000"/>
<circle cx="238.00" cy="300.60" r="1.6" fill="#000"/>
<polygon points="445.35,191.30 448.05,193.10 448.05,300.90 445.35,300.90" fill="#000"/>
<circle cx="446.70" cy="300.60" r="1.6" fill="#000"/>
<polygon points="27.00,337.10 29.70,338.90 29.70,446.60 27.00,446.60" fill="#000"/>
<circle cx="28.35" cy="446.30" r="1.6" fill="#000"/>
<polygon points="236.65,337.10 239.35,338.90 239.35,446.60 236.65,446.60" fill="#000"/>
<circle cx="238.00" cy="446.30" r="1.6" fill="#000"/>
<polygon points="445.35,337.10 448.05,338.90 448.05,446.60 445.35,446.60" fill="#000"/>
<circle cx="446.70" cy="446.30" r="1.6" fill="#000"/>
<rect x="647.9" y="225" width="12.7" height="12.2" fill="#E0AA46"/>
<rect x="647.9" y="248.3" width="12.7" height="12.3" fill="#E67C50"/>
<text x="662.2" y="236.3" font-family='"Liberation Serif", serif' font-size="20px" fill="#111">C1</text>
<text x="662.2" y="262.2" font-family='"Liberation Serif", serif' font-size="20px" fill="#111">C2</text>
<text x="6.3" y="489.8" font-family='"Liberation Sans", sans-serif' font-weight="bold" font-size="29px" fill="#000">B</text>
<rect x="44.0" y="568.2" width="150.2" height="211.8" fill="#E2E3E3"/>
<rect x="198.0" y="740.4" width="150.3" height="39.6" fill="#E2E3E3"/>
<rect x="353.0" y="521.0" width="150.3" height="259.0" fill="#E2E3E3"/>
<rect x="507.8" y="521.0" width="152.7" height="259.0" fill="#E2E3E3"/>
<rect x="44" y="780" width="151" height="21.2" fill="#8CFBD6"/>
<rect x="44" y="801.2" width="151" height="20.8" fill="#99FCE1"/>
<rect x="44.5" y="780.5" width="150" height="41" fill="none" stroke="#000" stroke-opacity="0.6" stroke-width="1"/>
<text x="96.0" y="815.0" font-family='"Liberation Serif", serif' font-size="18.6px" fill="#111">Il21+ Tfh</text>
<rect x="198" y="780" width="151" height="21.2" fill="#9DE3ED"/>
<rect x="198" y="801.2" width="151" height="20.8" fill="#ABF1FA"/>
<rect x="198.5" y="780.5" width="150" height="41" fill="none" stroke="#000" stroke-opacity="0.6" stroke-width="1"/>
<text x="259.0" y="814.9" font-family='"Liberation Serif", serif' font-size="18.6px" fill="#111">Tfh_1</text>
<rect x="353" y="780" width="151" height="21.2" fill="#E27B86"/>
<rect x="353" y="801.2" width="151" height="20.8" fill="#EC8894"/>
<rect x="353.5" y="780.5" width="150" height="41" fill="none" stroke="#000" stroke-opacity="0.6" stroke-width="1"/>
<text x="413.6" y="816.0" font-family='"Liberation Serif", serif' font-size="18.6px" fill="#111">Tfh_2</text>
<rect x="508" y="780" width="153" height="21.2" fill="#A28ADD"/>
<rect x="508" y="801.2" width="153" height="20.8" fill="#B097EC"/>
<rect x="508.5" y="780.5" width="152" height="41" fill="none" stroke="#000" stroke-opacity="0.6" stroke-width="1"/>
<text x="568.0" y="817.0" font-family='"Liberation Serif", serif' font-size="18.6px" fill="#111">Tfh_3</text>
<rect x="36.3" y="505.8" width="6.7" height="332.5" fill="#000"/>
<text x="33.8" y="524.0" font-family='"Liberation Serif", serif' font-size="15.5px" fill="#333" text-anchor="end">6</text>
<text x="33.8" y="617.0" font-family='"Liberation Serif", serif' font-size="15.5px" fill="#333" text-anchor="end">4</text>
<text x="33.8" y="710.6" font-family='"Liberation Serif", serif' font-size="15.5px" fill="#333" text-anchor="end">2</text>
<text x="33.8" y="803.8" font-family='"Liberation Serif", serif' font-size="15.5px" fill="#333" text-anchor="end">0</text>
<text transform="translate(15.2,645.3) rotate(-90)" font-family='"Liberation Serif", serif' font-size="20.5px" fill="#111" text-anchor="middle">Average log<tspan font-size="11px" dy="6.2">2</tspan><tspan dy="-6.2">FC</tspan></text>
<circle cx="62.6" cy="730.2" r="2.2" fill="#FF1A12"/>
<circle cx="72.6" cy="731.3" r="2.2" fill="#FF1A12"/>
<circle cx="90.0" cy="730.6" r="2.2" fill="#FF1A12"/>
<circle cx="96.8" cy="732.8" r="2.2" fill="#FF1A12"/>
<circle cx="61.2" cy="736.4" r="2.2" fill="#FF1A12"/>
<circle cx="67.3" cy="736.7" r="2.2" fill="#FF1A12"/>
<circle cx="82.1" cy="737.3" r="2.2" fill="#FF1A12"/>
<circle cx="88.4" cy="739.4" r="2.2" fill="#FF1A12"/>
<circle cx="89.7" cy="740.5" r="2.2" fill="#FF1A12"/>
<circle cx="95.3" cy="739.4" r="2.2" fill="#FF1A12"/>
<circle cx="98.4" cy="738.0" r="2.2" fill="#FF1A12"/>
<circle cx="100.8" cy="736.7" r="2.2" fill="#FF1A12"/>
<circle cx="103.9" cy="738.3" r="2.2" fill="#FF1A12"/>
<circle cx="107.0" cy="739.8" r="2.2" fill="#FF1A12"/>
<circle cx="62.9" cy="741.6" r="2.2" fill="#FF1A12"/>
<circle cx="57.9" cy="746.1" r="2.2" fill="#FF1A12"/>
<circle cx="60.6" cy="746.9" r="2.2" fill="#FF1A12"/>
<circle cx="64.5" cy="745.5" r="2.2" fill="#FF1A12"/>
<circle cx="66.7" cy="745.5" r="2.2" fill="#FF1A12"/>
<circle cx="76.0" cy="748.0" r="2.2" fill="#FF1A12"/>
<circle cx="85.6" cy="749.7" r="2.2" fill="#FF1A12"/>
<circle cx="92.8" cy="745.9" r="2.2" fill="#FF1A12"/>
<circle cx="98.9" cy="746.9" r="2.2" fill="#FF1A12"/>
<circle cx="111.7" cy="747.2" r="2.2" fill="#FF1A12"/>
<circle cx="54.5" cy="753.3" r="2.2" fill="#FF1A12"/>
<circle cx="57.3" cy="753.1" r="2.2" fill="#FF1A12"/>
<circle cx="63.4" cy="754.6" r="2.2" fill="#FF1A12"/>
<circle cx="96.1" cy="754.1" r="2.2" fill="#FF1A12"/>
<circle cx="53.8" cy="758.6" r="2.2" fill="#FF1A12"/>
<circle cx="52.3" cy="761.6" r="2.2" fill="#FF1A12"/>
<circle cx="64.5" cy="760.3" r="2.2" fill="#FF1A12"/>
<circle cx="82.8" cy="758.8" r="2.2" fill="#FF1A12"/>
<circle cx="78.4" cy="760.0" r="2.2" fill="#FF1A12"/>
<circle cx="72.3" cy="762.5" r="2.2" fill="#FF1A12"/>
<circle cx="112.8" cy="759.1" r="2.2" fill="#FF1A12"/>
<circle cx="118.6" cy="758.3" r="2.2" fill="#FF1A12"/>
<circle cx="111.7" cy="761.3" r="2.2" fill="#FF1A12"/>
<circle cx="116.1" cy="762.2" r="2.2" fill="#FF1A12"/>
<circle cx="52.9" cy="766.1" r="2.2" fill="#FF1A12"/>
<circle cx="55.1" cy="767.7" r="2.2" fill="#FF1A12"/>
<circle cx="58.4" cy="768.8" r="2.2" fill="#FF1A12"/>
<circle cx="61.8" cy="765.5" r="2.2" fill="#FF1A12"/>
<circle cx="61.8" cy="770.0" r="2.2" fill="#FF1A12"/>
<circle cx="68.4" cy="768.8" r="2.2" fill="#FF1A12"/>
<circle cx="74.5" cy="766.1" r="2.2" fill="#FF1A12"/>
<circle cx="77.3" cy="763.3" r="2.2" fill="#FF1A12"/>
<circle cx="79.5" cy="762.7" r="2.2" fill="#FF1A12"/>
<circle cx="81.7" cy="764.4" r="2.2" fill="#FF1A12"/>
<circle cx="84.0" cy="768.3" r="2.2" fill="#FF1A12"/>
<circle cx="89.5" cy="767.7" r="2.2" fill="#FF1A12"/>
<circle cx="91.7" cy="764.6" r="2.2" fill="#FF1A12"/>
<circle cx="101.7" cy="763.8" r="2.2" fill="#FF1A12"/>
<circle cx="106.1" cy="764.7" r="2.2" fill="#FF1A12"/>
<circle cx="112.8" cy="768.8" r="2.2" fill="#FF1A12"/>
<circle cx="53.4" cy="773.3" r="2.2" fill="#FF1A12"/>
<circle cx="75.1" cy="772.2" r="2.2" fill="#FF1A12"/>
<circle cx="76.2" cy="773.3" r="2.2" fill="#FF1A12"/>
<circle cx="87.3" cy="771.6" r="2.2" fill="#FF1A12"/>
<circle cx="90.6" cy="771.9" r="2.2" fill="#FF1A12"/>
<circle cx="96.1" cy="770.8" r="2.2" fill="#FF1A12"/>
<circle cx="98.4" cy="772.7" r="2.2" fill="#FF1A12"/>
<circle cx="100.6" cy="769.9" r="2.2" fill="#FF1A12"/>
<circle cx="117.2" cy="770.5" r="2.2" fill="#FF1A12"/>
<circle cx="119.4" cy="771.0" r="2.2" fill="#FF1A12"/>
<circle cx="130.3" cy="732.5" r="2.2" fill="#FF1A12"/>
<circle cx="135.1" cy="735.7" r="2.2" fill="#FF1A12"/>
<circle cx="151.0" cy="732.8" r="2.2" fill="#FF1A12"/>
<circle cx="157.9" cy="734.6" r="2.2" fill="#FF1A12"/>
<circle cx="159.0" cy="737.4" r="2.2" fill="#FF1A12"/>
<circle cx="182.9" cy="734.8" r="2.2" fill="#FF1A12"/>
<circle cx="184.6" cy="741.0" r="2.2" fill="#FF1A12"/>
<circle cx="136.8" cy="742.8" r="2.2" fill="#FF1A12"/>
<circle cx="135.6" cy="746.5" r="2.2" fill="#FF1A12"/>
<circle cx="125.4" cy="745.9" r="2.2" fill="#FF1A12"/>
<circle cx="126.2" cy="748.2" r="2.2" fill="#FF1A12"/>
<circle cx="154.4" cy="744.0" r="2.2" fill="#FF1A12"/>
<circle cx="166.4" cy="744.8" r="2.2" fill="#FF1A12"/>
<circle cx="168.1" cy="747.1" r="2.2" fill="#FF1A12"/>
<circle cx="139.1" cy="748.8" r="2.2" fill="#FF1A12"/>
<circle cx="140.8" cy="751.1" r="2.2" fill="#FF1A12"/>
<circle cx="156.7" cy="749.9" r="2.2" fill="#FF1A12"/>
<circle cx="157.9" cy="751.9" r="2.2" fill="#FF1A12"/>
<circle cx="160.1" cy="750.5" r="2.2" fill="#FF1A12"/>
<circle cx="163.0" cy="751.6" r="2.2" fill="#FF1A12"/>
<circle cx="171.0" cy="750.8" r="2.2" fill="#FF1A12"/>
<circle cx="180.6" cy="748.2" r="2.2" fill="#FF1A12"/>
<circle cx="180.9" cy="751.1" r="2.2" fill="#FF1A12"/>
<circle cx="145.1" cy="754.3" r="2.2" fill="#FF1A12"/>
<circle cx="131.4" cy="755.6" r="2.2" fill="#FF1A12"/>
<circle cx="132.2" cy="759.8" r="2.2" fill="#FF1A12"/>
<circle cx="161.0" cy="757.0" r="2.2" fill="#FF1A12"/>
<circle cx="148.5" cy="759.6" r="2.2" fill="#FF1A12"/>
<circle cx="150.5" cy="759.8" r="2.2" fill="#FF1A12"/>
<circle cx="148.2" cy="761.9" r="2.2" fill="#FF1A12"/>
<circle cx="163.5" cy="760.5" r="2.2" fill="#FF1A12"/>
<circle cx="166.7" cy="759.4" r="2.2" fill="#FF1A12"/>
<circle cx="177.8" cy="759.4" r="2.2" fill="#FF1A12"/>
<circle cx="185.4" cy="761.5" r="2.2" fill="#FF1A12"/>
<circle cx="119.1" cy="757.9" r="2.2" fill="#FF1A12"/>
<circle cx="120.3" cy="763.0" r="2.2" fill="#FF1A12"/>
<circle cx="118.6" cy="764.2" r="2.2" fill="#FF1A12"/>
<circle cx="128.2" cy="765.9" r="2.2" fill="#FF1A12"/>
<circle cx="137.9" cy="765.3" r="2.2" fill="#FF1A12"/>
<circle cx="143.1" cy="763.6" r="2.2" fill="#FF1A12"/>
<circle cx="145.9" cy="765.3" r="2.2" fill="#FF1A12"/>
<circle cx="139.1" cy="768.1" r="2.2" fill="#FF1A12"/>
<circle cx="141.9" cy="767.0" r="2.2" fill="#FF1A12"/>
<circle cx="148.7" cy="767.0" r="2.2" fill="#FF1A12"/>
<circle cx="152.7" cy="767.0" r="2.2" fill="#FF1A12"/>
<circle cx="154.4" cy="766.4" r="2.2" fill="#FF1A12"/>
<circle cx="158.4" cy="767.6" r="2.2" fill="#FF1A12"/>
<circle cx="168.1" cy="764.2" r="2.2" fill="#FF1A12"/>
<circle cx="168.1" cy="767.0" r="2.2" fill="#FF1A12"/>
<circle cx="172.7" cy="767.6" r="2.2" fill="#FF1A12"/>
<circle cx="179.5" cy="766.4" r="2.2" fill="#FF1A12"/>
<circle cx="181.8" cy="764.2" r="2.2" fill="#FF1A12"/>
<circle cx="118.0" cy="769.9" r="2.2" fill="#FF1A12"/>
<circle cx="121.4" cy="770.4" r="2.2" fill="#FF1A12"/>
<circle cx="124.8" cy="771.6" r="2.2" fill="#FF1A12"/>
<circle cx="128.8" cy="770.4" r="2.2" fill="#FF1A12"/>
<circle cx="131.7" cy="770.4" r="2.2" fill="#FF1A12"/>
<circle cx="129.4" cy="773.0" r="2.2" fill="#FF1A12"/>
<circle cx="126.0" cy="773.0" r="2.2" fill="#FF1A12"/>
<circle cx="147.0" cy="771.0" r="2.2" fill="#FF1A12"/>
<circle cx="151.6" cy="769.9" r="2.2" fill="#FF1A12"/>
<circle cx="153.9" cy="771.6" r="2.2" fill="#FF1A12"/>
<circle cx="160.7" cy="771.9" r="2.2" fill="#FF1A12"/>
<circle cx="163.5" cy="769.9" r="2.2" fill="#FF1A12"/>
<circle cx="169.2" cy="773.0" r="2.2" fill="#FF1A12"/>
<circle cx="171.5" cy="769.6" r="2.2" fill="#FF1A12"/>
<circle cx="175.5" cy="772.5" r="2.2" fill="#FF1A12"/>
<circle cx="181.8" cy="769.9" r="2.2" fill="#FF1A12"/>
<circle cx="184.0" cy="771.9" r="2.2" fill="#FF1A12"/>
<circle cx="186.1" cy="772.4" r="2.2" fill="#FF1A12"/>
<circle cx="64.8" cy="684.9" r="2.2" fill="#FF1A12"/>
<circle cx="58.3" cy="689.6" r="2.2" fill="#FF1A12"/>
<circle cx="83.7" cy="687.9" r="2.2" fill="#FF1A12"/>
<circle cx="102.8" cy="688.9" r="2.2" fill="#FF1A12"/>
<circle cx="53.4" cy="701.3" r="2.2" fill="#FF1A12"/>
<circle cx="57.3" cy="702.9" r="2.2" fill="#FF1A12"/>
<circle cx="69.9" cy="703.7" r="2.2" fill="#FF1A12"/>
<circle cx="67.6" cy="708.8" r="2.2" fill="#FF1A12"/>
<circle cx="87.6" cy="711.9" r="2.2" fill="#FF1A12"/>
<circle cx="105.8" cy="711.6" r="2.2" fill="#FF1A12"/>
<circle cx="111.7" cy="718.9" r="2.2" fill="#FF1A12"/>
<circle cx="62.2" cy="717.7" r="2.2" fill="#FF1A12"/>
<circle cx="62.0" cy="726.5" r="2.2" fill="#FF1A12"/>
<circle cx="62.9" cy="729.9" r="2.2" fill="#FF1A12"/>
<circle cx="72.5" cy="731.2" r="2.2" fill="#FF1A12"/>
<circle cx="61.3" cy="736.5" r="2.2" fill="#FF1A12"/>
<circle cx="67.1" cy="736.8" r="2.2" fill="#FF1A12"/>
<circle cx="121.0" cy="687.3" r="2.2" fill="#FF1A12"/>
<circle cx="165.5" cy="686.9" r="2.2" fill="#FF1A12"/>
<circle cx="125.1" cy="697.6" r="2.2" fill="#FF1A12"/>
<circle cx="143.3" cy="699.7" r="2.2" fill="#FF1A12"/>
<circle cx="169.0" cy="712.3" r="2.2" fill="#FF1A12"/>
<circle cx="177.8" cy="713.9" r="2.2" fill="#FF1A12"/>
<circle cx="111.9" cy="718.9" r="2.2" fill="#FF1A12"/>
<circle cx="121.9" cy="718.9" r="2.2" fill="#FF1A12"/>
<circle cx="146.7" cy="719.6" r="2.2" fill="#FF1A12"/>
<circle cx="154.2" cy="722.5" r="2.2" fill="#FF1A12"/>
<circle cx="168.8" cy="720.6" r="2.2" fill="#FF1A12"/>
<circle cx="143.3" cy="725.2" r="2.2" fill="#FF1A12"/>
<circle cx="130.1" cy="732.8" r="2.2" fill="#FF1A12"/>
<circle cx="135.1" cy="735.0" r="2.2" fill="#FF1A12"/>
<circle cx="150.8" cy="732.8" r="2.2" fill="#FF1A12"/>
<circle cx="157.7" cy="734.0" r="2.2" fill="#FF1A12"/>
<circle cx="182.8" cy="734.0" r="2.2" fill="#FF1A12"/>
<circle cx="226.3" cy="772.4" r="2.2" fill="#FF1A12"/>
<circle cx="237.3" cy="773.2" r="2.2" fill="#FF1A12"/>
<circle cx="377.7" cy="768.9" r="2.2" fill="#FF1A12"/>
<circle cx="388.7" cy="772.6" r="2.2" fill="#FF1A12"/>
<circle cx="397.4" cy="769.5" r="2.2" fill="#FF1A12"/>
<circle cx="410.1" cy="769.2" r="2.2" fill="#FF1A12"/>
<circle cx="435.3" cy="770.0" r="2.2" fill="#FF1A12"/>
<circle cx="455.1" cy="772.2" r="2.2" fill="#FF1A12"/>
<circle cx="462.4" cy="768.2" r="2.2" fill="#FF1A12"/>
<circle cx="529.6" cy="772.6" r="2.2" fill="#FF1A12"/>
<circle cx="557.0" cy="766.2" r="2.2" fill="#FF1A12"/>
<circle cx="571.6" cy="773.2" r="2.2" fill="#FF1A12"/>
<circle cx="581.0" cy="773.2" r="2.2" fill="#FF1A12"/>
<circle cx="569.2" cy="765.1" r="2.2" fill="#FF1A12"/>
<circle cx="571.8" cy="772.8" r="2.2" fill="#FF1A12"/>
<circle cx="581.3" cy="773.2" r="2.2" fill="#FF1A12"/>
<circle cx="607.5" cy="769.4" r="2.2" fill="#FF1A12"/>
<circle cx="613.1" cy="770.4" r="2.2" fill="#FF1A12"/>
<circle cx="616.3" cy="760.4" r="2.2" fill="#FF1A12"/>
<circle cx="618.1" cy="764.7" r="2.2" fill="#FF1A12"/>
<circle cx="626.6" cy="767.1" r="2.2" fill="#FF1A12"/>
<circle cx="632.3" cy="769.9" r="2.2" fill="#FF1A12"/>
<circle cx="649.7" cy="765.4" r="2.2" fill="#FF1A12"/>
<circle cx="86.0" cy="571.2" r="2.6" fill="#FF1A12"/>
<circle cx="61.0" cy="600.2" r="2.6" fill="#FF1A12"/>
<circle cx="173.8" cy="607.9" r="2.6" fill="#FF1A12"/>
<circle cx="112.4" cy="617.2" r="2.6" fill="#FF1A12"/>
<circle cx="169.0" cy="625.0" r="2.6" fill="#FF1A12"/>
<circle cx="69.9" cy="644.1" r="2.6" fill="#FF1A12"/>
<circle cx="150.5" cy="649.2" r="2.6" fill="#FF1A12"/>
<circle cx="63.4" cy="663.8" r="2.6" fill="#FF1A12"/>
<circle cx="140.9" cy="671.1" r="2.6" fill="#FF1A12"/>
<circle cx="101.9" cy="680.2" r="2.6" fill="#FF1A12"/>
<circle cx="238.5" cy="758.4" r="2.6" fill="#FF1A12"/>
<circle cx="253.6" cy="771.2" r="2.6" fill="#FF1A12"/>
<circle cx="261.3" cy="770.7" r="2.6" fill="#FF1A12"/>
<circle cx="277.4" cy="756.9" r="2.6" fill="#FF1A12"/>
<circle cx="282.1" cy="752.5" r="2.6" fill="#FF1A12"/>
<circle cx="300.4" cy="767.1" r="2.6" fill="#FF1A12"/>
<circle cx="307.4" cy="764.2" r="2.6" fill="#FF1A12"/>
<circle cx="310.1" cy="768.9" r="2.6" fill="#FF1A12"/>
<circle cx="311.3" cy="770.8" r="2.6" fill="#FF1A12"/>
<circle cx="325.2" cy="767.8" r="2.6" fill="#FF1A12"/>
<circle cx="328.1" cy="764.9" r="2.6" fill="#FF1A12"/>
<circle cx="254.4" cy="770.8" r="2.6" fill="#FF1A12"/>
<circle cx="261.0" cy="770.8" r="2.6" fill="#FF1A12"/>
<circle cx="409.9" cy="534.4" r="2.6" fill="#FF1A12"/>
<circle cx="382.2" cy="554.6" r="2.6" fill="#FF1A12"/>
<circle cx="374.6" cy="579.4" r="2.6" fill="#FF1A12"/>
<circle cx="376.0" cy="759.9" r="2.6" fill="#FF1A12"/>
<circle cx="378.3" cy="759.6" r="2.6" fill="#FF1A12"/>
<circle cx="380.5" cy="759.1" r="2.6" fill="#FF1A12"/>
<circle cx="493.3" cy="747.4" r="2.6" fill="#FF1A12"/>
<circle cx="486.9" cy="760.6" r="2.6" fill="#FF1A12"/>
<circle cx="455.9" cy="758.8" r="2.6" fill="#FF1A12"/>
<circle cx="457.5" cy="767.3" r="2.6" fill="#FF1A12"/>
<circle cx="475.8" cy="767.3" r="2.6" fill="#FF1A12"/>
<circle cx="532.5" cy="528.2" r="2.6" fill="#FF1A12"/>
<circle cx="521.4" cy="755.5" r="2.6" fill="#FF1A12"/>
<circle cx="534.3" cy="758.6" r="2.6" fill="#FF1A12"/>
<circle cx="536.0" cy="759.8" r="2.6" fill="#FF1A12"/>
<circle cx="537.8" cy="766.8" r="2.6" fill="#FF1A12"/>
<circle cx="561.1" cy="748.7" r="2.6" fill="#FF1A12"/>
<circle cx="569.9" cy="749.6" r="2.6" fill="#FF1A12"/>
<circle cx="558.2" cy="759.2" r="2.6" fill="#FF1A12"/>
<circle cx="566.4" cy="765.0" r="2.6" fill="#FF1A12"/>
<circle cx="568.7" cy="765.0" r="2.6" fill="#FF1A12"/>
<circle cx="582.2" cy="756.9" r="2.6" fill="#FF1A12"/>
<circle cx="584.5" cy="769.7" r="2.6" fill="#FF1A12"/>
<circle cx="570.0" cy="749.5" r="2.6" fill="#FF1A12"/>
<circle cx="596.2" cy="747.7" r="2.6" fill="#FF1A12"/>
<circle cx="617.7" cy="750.5" r="2.6" fill="#FF1A12"/>
<circle cx="582.3" cy="756.6" r="2.6" fill="#FF1A12"/>
<circle cx="590.5" cy="759.7" r="2.6" fill="#FF1A12"/>
<circle cx="593.3" cy="760.4" r="2.6" fill="#FF1A12"/>
<circle cx="584.8" cy="769.6" r="2.6" fill="#FF1A12"/>
<circle cx="611.7" cy="766.1" r="2.6" fill="#FF1A12"/>
<circle cx="645.4" cy="758.7" r="2.6" fill="#FF1A12"/>
<text x="90.0" y="578.2" font-family='"Liberation Serif", serif' font-style="italic" font-size="12.6px" fill="#1a1a1a">Prdm1</text>
<text x="64.5" y="603.2" font-family='"Liberation Serif", serif' font-style="italic" font-size="12.6px" fill="#1a1a1a">Il21</text>
<text x="136.5" y="596.9" font-family='"Liberation Serif", serif' font-style="italic" font-size="12.6px" fill="#1a1a1a">Serpina3f</text>
<text x="106.0" y="611.9" font-family='"Liberation Serif", serif' font-style="italic" font-size="12.6px" fill="#1a1a1a">Lag3</text>
<text x="134.0" y="628.2" font-family='"Liberation Serif", serif' font-style="italic" font-size="12.6px" fill="#1a1a1a">Plac8</text>
<text x="74.5" y="649.5" font-family='"Liberation Serif", serif' font-style="italic" font-size="12.6px" fill="#1a1a1a">Ccr5</text>
<text x="153.3" y="653.4" font-family='"Liberation Serif", serif' font-style="italic" font-size="12.6px" fill="#1a1a1a">Lilr4b</text>
<text x="66.4" y="666.9" font-family='"Liberation Serif", serif' font-style="italic" font-size="12.6px" fill="#1a1a1a">Serpina3g</text>
<text x="143.5" y="671.5" font-family='"Liberation Serif", serif' font-style="italic" font-size="12.6px" fill="#1a1a1a">Glrx</text>
<text x="110.5" y="683.7" font-family='"Liberation Serif", serif' font-style="italic" font-size="12.6px" fill="#1a1a1a">Ifng</text>
<text x="216.0" y="758.0" font-family='"Liberation Serif", serif' font-style="italic" font-size="12.6px" fill="#1a1a1a">Klf2</text>
<text x="233.0" y="772.1" font-family='"Liberation Serif", serif' font-style="italic" font-size="12.6px" fill="#1a1a1a">Il7r</text>
<text x="257.0" y="758.4" font-family='"Liberation Serif", serif' font-style="italic" font-size="12.6px" fill="#1a1a1a">Txk</text>
<text x="277.5" y="747.8" font-family='"Liberation Serif", serif' font-style="italic" font-size="12.6px" fill="#1a1a1a">Sell</text>
<text x="285.3" y="758.6" font-family='"Liberation Serif", serif' font-style="italic" font-size="12.6px" fill="#1a1a1a">Txnip</text>
<text x="317.0" y="758.0" font-family='"Liberation Serif", serif' font-style="italic" font-size="12.6px" fill="#1a1a1a">Grap2</text>
<text x="267.3" y="770.8" font-family='"Liberation Serif", serif' font-style="italic" font-size="12.6px" fill="#1a1a1a">Stk10</text>
<text x="254.0" y="778.8" font-family='"Liberation Serif", serif' font-style="italic" font-size="12.6px" fill="#1a1a1a">Stk24</text>
<text x="286.7" y="778.8" font-family='"Liberation Serif", serif' font-style="italic" font-size="12.6px" fill="#1a1a1a">Crlf3</text>
<text x="315.0" y="778.3" font-family='"Liberation Serif", serif' font-style="italic" font-size="12.6px" fill="#1a1a1a">Tgfbr2</text>
<text x="416.0" y="539.2" font-family='"Liberation Serif", serif' font-style="italic" font-size="12.6px" fill="#1a1a1a">Tox2</text>
<text x="365.3" y="566.0" font-family='"Liberation Serif", serif' font-style="italic" font-size="12.6px" fill="#1a1a1a">Gm14718</text>
<text x="367.8" y="591.1" font-family='"Liberation Serif", serif' font-style="italic" font-size="12.6px" fill="#1a1a1a">Gpm6b</text>
<text x="375.0" y="751.7" font-family='"Liberation Serif", serif' font-style="italic" font-size="12.6px" fill="#1a1a1a">Ptpn11</text>
<text x="354.5" y="768.3" font-family='"Liberation Serif", serif' font-style="italic" font-size="12.6px" fill="#1a1a1a">Cxcr4</text>
<text x="483.0" y="740.1" font-family='"Liberation Serif", serif' font-style="italic" font-size="12.6px" fill="#1a1a1a">Tox</text>
<text x="434.4" y="754.5" font-family='"Liberation Serif", serif' font-style="italic" font-size="12.6px" fill="#1a1a1a">Tbc1d4</text>
<text x="462.0" y="763.2" font-family='"Liberation Serif", serif' font-style="italic" font-size="12.6px" fill="#1a1a1a">Ctsb</text>
<text x="431.0" y="769.0" font-family='"Liberation Serif", serif' font-style="italic" font-size="12.6px" fill="#1a1a1a">Ikzf2</text>
<text x="464.8" y="777.8" font-family='"Liberation Serif", serif' font-style="italic" font-size="12.6px" fill="#1a1a1a">Rgs10</text>
<text x="522.1" y="538.8" font-family='"Liberation Serif", serif' font-style="italic" font-size="12.6px" fill="#1a1a1a">Tnfsf11</text>
<text x="510.5" y="748.5" font-family='"Liberation Serif", serif' font-style="italic" font-size="12.6px" fill="#1a1a1a">Tnpo3</text>
<text x="542.5" y="740.5" font-family='"Liberation Serif", serif' font-style="italic" font-size="12.6px" fill="#1a1a1a">Nono</text>
<text x="567.8" y="746.3" font-family='"Liberation Serif", serif' font-style="italic" font-size="12.6px" fill="#1a1a1a">Nck1</text>
<text x="598.5" y="743.5" font-family='"Liberation Serif", serif' font-style="italic" font-size="12.6px" fill="#1a1a1a">Pbrm1</text>
<text x="622.5" y="751.2" font-family='"Liberation Serif", serif' font-style="italic" font-size="12.6px" fill="#1a1a1a">Sptssa</text>
<text x="518.6" y="771.5" font-family='"Liberation Serif", serif' font-style="italic" font-size="12.6px" fill="#1a1a1a">Syt2</text>
<text x="538.5" y="763.9" font-family='"Liberation Serif", serif' font-style="italic" font-size="12.6px" fill="#1a1a1a">Mrpl57</text>
<text x="575.2" y="768.2" font-family='"Liberation Serif", serif' font-style="italic" font-size="12.6px" fill="#1a1a1a">Itm2c</text>
<text x="629.0" y="770.0" font-family='"Liberation Serif", serif' font-style="italic" font-size="12.6px" fill="#1a1a1a">Ddx1</text>
</svg></body></html>
